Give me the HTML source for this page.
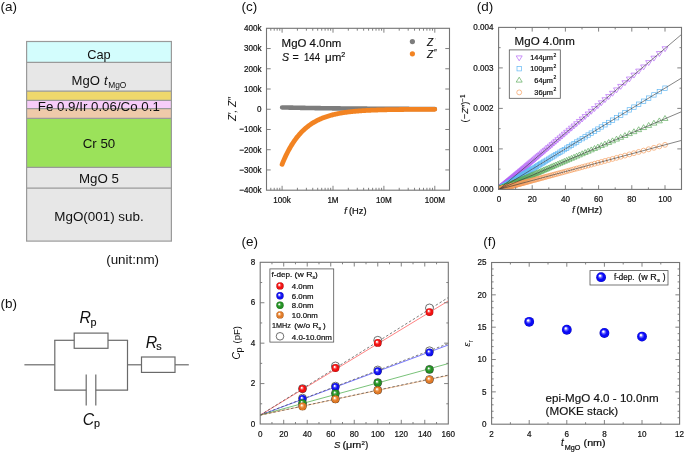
<!DOCTYPE html>
<html><head><meta charset="utf-8"><style>
html,body{margin:0;padding:0;background:#fff;}
svg{display:block;will-change:transform;font-family:"Liberation Sans", sans-serif;}
</style></head><body>
<svg width="685" height="452" viewBox="0 0 685 452" font-family='"Liberation Sans", sans-serif'>
<rect width="685" height="452" fill="#fff"/>
<text x="0.60" y="10.90" font-size="13.5" fill="#111111">(a)</text>
<text x="0.60" y="307.60" font-size="13.5" fill="#111111">(b)</text>
<text x="241.40" y="10.90" font-size="13.5" fill="#111111">(c)</text>
<text x="476.80" y="10.90" font-size="13.5" fill="#111111">(d)</text>
<text x="241.40" y="246.20" font-size="13.5" fill="#111111">(e)</text>
<text x="483.20" y="246.20" font-size="13.5" fill="#111111">(f)</text>
<rect x="26.6" y="41.5" width="144.8" height="20.90" fill="#d3fdfd"/>
<rect x="26.6" y="62.4" width="144.8" height="28.70" fill="#e7e7e7"/>
<rect x="26.6" y="91.1" width="144.8" height="9.30" fill="#efd86c"/>
<rect x="26.6" y="100.4" width="144.8" height="8.20" fill="#f7cdf9"/>
<rect x="26.6" y="108.6" width="144.8" height="9.80" fill="#efcaaa"/>
<rect x="26.6" y="118.4" width="144.8" height="48.90" fill="#9be25a"/>
<rect x="26.6" y="167.3" width="144.8" height="20.80" fill="#e7e7e7"/>
<rect x="26.6" y="188.1" width="144.8" height="53.00" fill="#e7e7e7"/>
<line x1="26.60" y1="62.40" x2="171.40" y2="62.40" stroke="#9a9a9a" stroke-width="1.2"/>
<line x1="26.60" y1="91.10" x2="171.40" y2="91.10" stroke="#9a9a9a" stroke-width="1.2"/>
<line x1="26.60" y1="100.40" x2="171.40" y2="100.40" stroke="#9a9a9a" stroke-width="1.2"/>
<line x1="26.60" y1="108.60" x2="171.40" y2="108.60" stroke="#9a9a9a" stroke-width="1.2"/>
<line x1="26.60" y1="118.40" x2="171.40" y2="118.40" stroke="#9a9a9a" stroke-width="1.2"/>
<line x1="26.60" y1="167.30" x2="171.40" y2="167.30" stroke="#9a9a9a" stroke-width="1.2"/>
<line x1="26.60" y1="188.10" x2="171.40" y2="188.10" stroke="#9a9a9a" stroke-width="1.2"/>
<rect x="26.6" y="41.5" width="144.8" height="199.60" fill="none" stroke="#9a9a9a" stroke-width="1.2"/>
<text x="99.00" y="58.70" font-size="12.8" text-anchor="middle" fill="#111111">Cap</text>
<text x="71.60" y="84.80" font-size="13.1" fill="#111111">MgO </text>
<text x="104.00" y="84.80" font-size="12.8" font-style="italic" fill="#111111">t</text>
<text x="108.20" y="87.60" font-size="8.4" fill="#111111" stroke="none">MgO</text>
<text x="98.80" y="111.00" font-size="13.3" text-anchor="middle" textLength="122.0" lengthAdjust="spacingAndGlyphs" fill="#111111">Fe 0.9/Ir 0.06/Co 0.1</text>
<text x="99.00" y="147.90" font-size="13.3" text-anchor="middle" fill="#111111">Cr 50</text>
<text x="99.00" y="183.40" font-size="13.3" text-anchor="middle" fill="#111111">MgO 5</text>
<text x="99.00" y="220.90" font-size="13.4" text-anchor="middle" fill="#111111">MgO(001) sub.</text>
<text x="132.60" y="264.10" font-size="13.4" text-anchor="middle" fill="#111111">(unit:nm)</text>
<line x1="24.40" y1="364.80" x2="54.80" y2="364.80" stroke="#6a6a6a" stroke-width="1.2"/>
<line x1="54.80" y1="340.30" x2="54.80" y2="390.20" stroke="#6a6a6a" stroke-width="1.2"/>
<line x1="127.50" y1="340.30" x2="127.50" y2="390.20" stroke="#6a6a6a" stroke-width="1.2"/>
<line x1="54.20" y1="340.30" x2="74.20" y2="340.30" stroke="#6a6a6a" stroke-width="1.2"/>
<line x1="108.00" y1="340.30" x2="128.10" y2="340.30" stroke="#6a6a6a" stroke-width="1.2"/>
<rect x="74.2" y="333.1" width="33.8" height="15.2" fill="none" stroke="#6a6a6a" stroke-width="1.2"/>
<line x1="54.20" y1="390.20" x2="86.20" y2="390.20" stroke="#6a6a6a" stroke-width="1.2"/>
<line x1="95.80" y1="390.20" x2="128.10" y2="390.20" stroke="#6a6a6a" stroke-width="1.2"/>
<line x1="86.20" y1="374.50" x2="86.20" y2="405.40" stroke="#6a6a6a" stroke-width="1.2"/>
<line x1="95.80" y1="374.50" x2="95.80" y2="405.40" stroke="#6a6a6a" stroke-width="1.2"/>
<line x1="127.50" y1="364.80" x2="141.50" y2="364.80" stroke="#6a6a6a" stroke-width="1.2"/>
<rect x="141.5" y="357.0" width="33.5" height="15.4" fill="none" stroke="#6a6a6a" stroke-width="1.2"/>
<line x1="175.00" y1="364.80" x2="188.80" y2="364.80" stroke="#6a6a6a" stroke-width="1.2"/>
<text x="79.40" y="323.40" font-size="15.8" font-style="italic" fill="#111111">R</text>
<text x="90.60" y="326.30" font-size="10.8" fill="#111111" stroke="#111111" stroke-width="0.16">p</text>
<text x="145.70" y="347.90" font-size="15.8" font-style="italic" fill="#111111">R</text>
<text x="156.30" y="350.20" font-size="10.8" fill="#111111" stroke="#111111" stroke-width="0.16">s</text>
<text x="82.80" y="424.60" font-size="15.8" font-style="italic" fill="#111111">C</text>
<text x="93.90" y="426.60" font-size="10.8" fill="#111111" stroke="#111111" stroke-width="0.16">p</text>
<polyline fill="none" stroke="#7d7d7d" stroke-width="4.6" stroke-linecap="round" stroke-linejoin="round" points="282.10,107.43 282.86,107.45 283.63,107.47 284.39,107.48 285.15,107.50 285.92,107.52 286.68,107.54 287.44,107.56 288.21,107.57 288.97,107.59 289.74,107.61 290.50,107.62 291.26,107.64 292.03,107.66 292.79,107.67 293.55,107.69 294.32,107.71 295.08,107.72 295.84,107.74 296.61,107.75 297.37,107.77 298.13,107.78 298.90,107.80 299.66,107.81 300.42,107.83 301.19,107.84 301.95,107.86 302.71,107.87 303.48,107.89 304.24,107.90 305.01,107.92 305.77,107.93 306.53,107.94 307.30,107.96 308.06,107.97 308.82,107.98 309.59,108.00 310.35,108.01 311.11,108.02 311.88,108.03 312.64,108.05 313.40,108.06 314.17,108.07 314.93,108.08 315.69,108.10 316.46,108.11 317.22,108.12 317.98,108.13 318.75,108.14 319.51,108.15 320.28,108.16 321.04,108.18 321.80,108.19 322.57,108.20 323.33,108.21 324.09,108.22 324.86,108.23 325.62,108.24 326.38,108.25 327.15,108.26 327.91,108.27 328.67,108.28 329.44,108.29 330.20,108.30 330.96,108.31 331.73,108.32 332.49,108.33 333.25,108.34 334.02,108.35 334.78,108.36 335.55,108.37 336.31,108.38 337.07,108.39 337.84,108.40 338.60,108.40 339.36,108.41 340.13,108.42 340.89,108.43 341.65,108.44 342.42,108.45 343.18,108.45 343.94,108.46 344.71,108.47 345.47,108.48 346.23,108.49 347.00,108.49 347.76,108.50 348.52,108.51 349.29,108.52 350.05,108.53 350.81,108.53 351.58,108.54 352.34,108.55 353.11,108.56 353.87,108.56 354.63,108.57 355.40,108.58 356.16,108.58 356.92,108.59 357.69,108.60 358.45,108.60 359.21,108.61 359.98,108.62 360.74,108.62 361.50,108.63 362.27,108.64 363.03,108.64 363.79,108.65 364.56,108.66 365.32,108.66 366.09,108.67 366.85,108.67 367.61,108.68 368.38,108.69 369.14,108.69 369.90,108.70 370.67,108.70 371.43,108.71 372.19,108.71 372.96,108.72 373.72,108.72 374.48,108.73 375.25,108.74 376.01,108.74 376.77,108.75 377.54,108.75 378.30,108.76 379.06,108.76 379.83,108.77 380.59,108.77 381.36,108.78 382.12,108.78 382.88,108.79 383.65,108.79 384.41,108.80 385.17,108.80 385.94,108.80 386.70,108.81 387.46,108.81 388.23,108.82 388.99,108.82 389.75,108.83 390.52,108.83 391.28,108.84 392.04,108.84 392.81,108.84 393.57,108.85 394.33,108.85 395.10,108.86 395.86,108.86 396.62,108.87 397.39,108.87 398.15,108.87 398.92,108.88 399.68,108.88 400.44,108.88 401.21,108.89 401.97,108.89 402.73,108.90 403.50,108.90 404.26,108.90 405.02,108.91 405.79,108.91 406.55,108.91 407.31,108.92 408.08,108.92 408.84,108.92 409.60,108.93 410.37,108.93 411.13,108.93 411.89,108.94 412.66,108.94 413.42,108.94 414.19,108.95 414.95,108.95 415.71,108.95 416.48,108.96 417.24,108.96 418.00,108.96 418.77,108.96 419.53,108.97 420.29,108.97 421.06,108.97 421.82,108.98 422.58,108.98 423.35,108.98 424.11,108.98 424.87,108.99 425.64,108.99 426.40,108.99 427.16,109.00 427.93,109.00 428.69,109.00 429.46,109.00 430.22,109.01 430.98,109.01 431.75,109.01 432.51,109.01 433.27,109.02 434.04,109.02 434.80,109.02"/>
<polyline fill="none" stroke="#f28322" stroke-width="4.8" stroke-linecap="round" stroke-linejoin="round" points="282.10,164.30 282.86,162.43 283.63,160.63 284.39,158.88 285.15,157.20 285.92,155.57 286.68,154.00 287.44,152.48 288.21,151.01 288.97,149.59 289.74,148.22 290.50,146.90 291.26,145.62 292.03,144.39 292.79,143.20 293.55,142.04 294.32,140.93 295.08,139.85 295.84,138.82 296.61,137.81 297.37,136.84 298.13,135.91 298.90,135.00 299.66,134.13 300.42,133.28 301.19,132.47 301.95,131.68 302.71,130.92 303.48,130.18 304.24,129.47 305.01,128.78 305.77,128.12 306.53,127.48 307.30,126.86 308.06,126.26 308.82,125.69 309.59,125.13 310.35,124.59 311.11,124.07 311.88,123.56 312.64,123.08 313.40,122.61 314.17,122.16 314.93,121.72 315.69,121.29 316.46,120.89 317.22,120.49 317.98,120.11 318.75,119.74 319.51,119.38 320.28,119.04 321.04,118.71 321.80,118.39 322.57,118.08 323.33,117.78 324.09,117.49 324.86,117.21 325.62,116.94 326.38,116.68 327.15,116.42 327.91,116.18 328.67,115.95 329.44,115.72 330.20,115.50 330.96,115.29 331.73,115.08 332.49,114.88 333.25,114.69 334.02,114.51 334.78,114.33 335.55,114.16 336.31,113.99 337.07,113.83 337.84,113.67 338.60,113.52 339.36,113.38 340.13,113.24 340.89,113.10 341.65,112.97 342.42,112.85 343.18,112.72 343.94,112.61 344.71,112.49 345.47,112.38 346.23,112.28 347.00,112.17 347.76,112.07 348.52,111.98 349.29,111.88 350.05,111.80 350.81,111.71 351.58,111.63 352.34,111.54 353.11,111.47 353.87,111.39 354.63,111.32 355.40,111.25 356.16,111.18 356.92,111.12 357.69,111.05 358.45,110.99 359.21,110.93 359.98,110.87 360.74,110.82 361.50,110.77 362.27,110.71 363.03,110.67 363.79,110.62 364.56,110.57 365.32,110.53 366.09,110.48 366.85,110.44 367.61,110.40 368.38,110.36 369.14,110.32 369.90,110.29 370.67,110.25 371.43,110.22 372.19,110.18 372.96,110.15 373.72,110.12 374.48,110.09 375.25,110.06 376.01,110.04 376.77,110.01 377.54,109.98 378.30,109.96 379.06,109.94 379.83,109.91 380.59,109.89 381.36,109.87 382.12,109.85 382.88,109.83 383.65,109.81 384.41,109.79 385.17,109.77 385.94,109.75 386.70,109.74 387.46,109.72 388.23,109.70 388.99,109.69 389.75,109.67 390.52,109.66 391.28,109.64 392.04,109.63 392.81,109.62 393.57,109.61 394.33,109.59 395.10,109.58 395.86,109.57 396.62,109.56 397.39,109.55 398.15,109.54 398.92,109.53 399.68,109.52 400.44,109.51 401.21,109.50 401.97,109.49 402.73,109.48 403.50,109.48 404.26,109.47 405.02,109.46 405.79,109.45 406.55,109.45 407.31,109.44 408.08,109.43 408.84,109.43 409.60,109.42 410.37,109.42 411.13,109.41 411.89,109.41 412.66,109.40 413.42,109.39 414.19,109.39 414.95,109.39 415.71,109.38 416.48,109.38 417.24,109.37 418.00,109.37 418.77,109.36 419.53,109.36 420.29,109.36 421.06,109.35 421.82,109.35 422.58,109.35 423.35,109.34 424.11,109.34 424.87,109.34 425.64,109.33 426.40,109.33 427.16,109.33 427.93,109.33 428.69,109.32 429.46,109.32 430.22,109.32 430.98,109.32 431.75,109.31 432.51,109.31 433.27,109.31 434.04,109.31 434.80,109.31"/>
<rect x="266.50" y="28.30" width="183.00" height="161.90" fill="none" stroke="#747474" stroke-width="1.1"/>
<line x1="270.81" y1="190.20" x2="270.81" y2="187.80" stroke="#747474" stroke-width="0.9"/>
<line x1="270.81" y1="28.30" x2="270.81" y2="30.70" stroke="#747474" stroke-width="0.9"/>
<line x1="274.22" y1="190.20" x2="274.22" y2="187.80" stroke="#747474" stroke-width="0.9"/>
<line x1="274.22" y1="28.30" x2="274.22" y2="30.70" stroke="#747474" stroke-width="0.9"/>
<line x1="277.17" y1="190.20" x2="277.17" y2="187.80" stroke="#747474" stroke-width="0.9"/>
<line x1="277.17" y1="28.30" x2="277.17" y2="30.70" stroke="#747474" stroke-width="0.9"/>
<line x1="279.77" y1="190.20" x2="279.77" y2="187.80" stroke="#747474" stroke-width="0.9"/>
<line x1="279.77" y1="28.30" x2="279.77" y2="30.70" stroke="#747474" stroke-width="0.9"/>
<line x1="282.10" y1="190.20" x2="282.10" y2="185.80" stroke="#747474" stroke-width="0.9"/>
<line x1="282.10" y1="28.30" x2="282.10" y2="32.70" stroke="#747474" stroke-width="0.9"/>
<line x1="297.42" y1="190.20" x2="297.42" y2="187.80" stroke="#747474" stroke-width="0.9"/>
<line x1="297.42" y1="28.30" x2="297.42" y2="30.70" stroke="#747474" stroke-width="0.9"/>
<line x1="306.39" y1="190.20" x2="306.39" y2="187.80" stroke="#747474" stroke-width="0.9"/>
<line x1="306.39" y1="28.30" x2="306.39" y2="30.70" stroke="#747474" stroke-width="0.9"/>
<line x1="312.74" y1="190.20" x2="312.74" y2="187.80" stroke="#747474" stroke-width="0.9"/>
<line x1="312.74" y1="28.30" x2="312.74" y2="30.70" stroke="#747474" stroke-width="0.9"/>
<line x1="317.68" y1="190.20" x2="317.68" y2="187.80" stroke="#747474" stroke-width="0.9"/>
<line x1="317.68" y1="28.30" x2="317.68" y2="30.70" stroke="#747474" stroke-width="0.9"/>
<line x1="321.71" y1="190.20" x2="321.71" y2="187.80" stroke="#747474" stroke-width="0.9"/>
<line x1="321.71" y1="28.30" x2="321.71" y2="30.70" stroke="#747474" stroke-width="0.9"/>
<line x1="325.12" y1="190.20" x2="325.12" y2="187.80" stroke="#747474" stroke-width="0.9"/>
<line x1="325.12" y1="28.30" x2="325.12" y2="30.70" stroke="#747474" stroke-width="0.9"/>
<line x1="328.07" y1="190.20" x2="328.07" y2="187.80" stroke="#747474" stroke-width="0.9"/>
<line x1="328.07" y1="28.30" x2="328.07" y2="30.70" stroke="#747474" stroke-width="0.9"/>
<line x1="330.67" y1="190.20" x2="330.67" y2="187.80" stroke="#747474" stroke-width="0.9"/>
<line x1="330.67" y1="28.30" x2="330.67" y2="30.70" stroke="#747474" stroke-width="0.9"/>
<line x1="333.00" y1="190.20" x2="333.00" y2="185.80" stroke="#747474" stroke-width="0.9"/>
<line x1="333.00" y1="28.30" x2="333.00" y2="32.70" stroke="#747474" stroke-width="0.9"/>
<line x1="348.32" y1="190.20" x2="348.32" y2="187.80" stroke="#747474" stroke-width="0.9"/>
<line x1="348.32" y1="28.30" x2="348.32" y2="30.70" stroke="#747474" stroke-width="0.9"/>
<line x1="357.29" y1="190.20" x2="357.29" y2="187.80" stroke="#747474" stroke-width="0.9"/>
<line x1="357.29" y1="28.30" x2="357.29" y2="30.70" stroke="#747474" stroke-width="0.9"/>
<line x1="363.64" y1="190.20" x2="363.64" y2="187.80" stroke="#747474" stroke-width="0.9"/>
<line x1="363.64" y1="28.30" x2="363.64" y2="30.70" stroke="#747474" stroke-width="0.9"/>
<line x1="368.58" y1="190.20" x2="368.58" y2="187.80" stroke="#747474" stroke-width="0.9"/>
<line x1="368.58" y1="28.30" x2="368.58" y2="30.70" stroke="#747474" stroke-width="0.9"/>
<line x1="372.61" y1="190.20" x2="372.61" y2="187.80" stroke="#747474" stroke-width="0.9"/>
<line x1="372.61" y1="28.30" x2="372.61" y2="30.70" stroke="#747474" stroke-width="0.9"/>
<line x1="376.02" y1="190.20" x2="376.02" y2="187.80" stroke="#747474" stroke-width="0.9"/>
<line x1="376.02" y1="28.30" x2="376.02" y2="30.70" stroke="#747474" stroke-width="0.9"/>
<line x1="378.97" y1="190.20" x2="378.97" y2="187.80" stroke="#747474" stroke-width="0.9"/>
<line x1="378.97" y1="28.30" x2="378.97" y2="30.70" stroke="#747474" stroke-width="0.9"/>
<line x1="381.57" y1="190.20" x2="381.57" y2="187.80" stroke="#747474" stroke-width="0.9"/>
<line x1="381.57" y1="28.30" x2="381.57" y2="30.70" stroke="#747474" stroke-width="0.9"/>
<line x1="383.90" y1="190.20" x2="383.90" y2="185.80" stroke="#747474" stroke-width="0.9"/>
<line x1="383.90" y1="28.30" x2="383.90" y2="32.70" stroke="#747474" stroke-width="0.9"/>
<line x1="399.22" y1="190.20" x2="399.22" y2="187.80" stroke="#747474" stroke-width="0.9"/>
<line x1="399.22" y1="28.30" x2="399.22" y2="30.70" stroke="#747474" stroke-width="0.9"/>
<line x1="408.19" y1="190.20" x2="408.19" y2="187.80" stroke="#747474" stroke-width="0.9"/>
<line x1="408.19" y1="28.30" x2="408.19" y2="30.70" stroke="#747474" stroke-width="0.9"/>
<line x1="414.54" y1="190.20" x2="414.54" y2="187.80" stroke="#747474" stroke-width="0.9"/>
<line x1="414.54" y1="28.30" x2="414.54" y2="30.70" stroke="#747474" stroke-width="0.9"/>
<line x1="419.48" y1="190.20" x2="419.48" y2="187.80" stroke="#747474" stroke-width="0.9"/>
<line x1="419.48" y1="28.30" x2="419.48" y2="30.70" stroke="#747474" stroke-width="0.9"/>
<line x1="423.51" y1="190.20" x2="423.51" y2="187.80" stroke="#747474" stroke-width="0.9"/>
<line x1="423.51" y1="28.30" x2="423.51" y2="30.70" stroke="#747474" stroke-width="0.9"/>
<line x1="426.92" y1="190.20" x2="426.92" y2="187.80" stroke="#747474" stroke-width="0.9"/>
<line x1="426.92" y1="28.30" x2="426.92" y2="30.70" stroke="#747474" stroke-width="0.9"/>
<line x1="429.87" y1="190.20" x2="429.87" y2="187.80" stroke="#747474" stroke-width="0.9"/>
<line x1="429.87" y1="28.30" x2="429.87" y2="30.70" stroke="#747474" stroke-width="0.9"/>
<line x1="432.47" y1="190.20" x2="432.47" y2="187.80" stroke="#747474" stroke-width="0.9"/>
<line x1="432.47" y1="28.30" x2="432.47" y2="30.70" stroke="#747474" stroke-width="0.9"/>
<line x1="434.80" y1="190.20" x2="434.80" y2="185.80" stroke="#747474" stroke-width="0.9"/>
<line x1="434.80" y1="28.30" x2="434.80" y2="32.70" stroke="#747474" stroke-width="0.9"/>
<text x="261.60" y="31.10" font-size="9" text-anchor="end" textLength="17.56" lengthAdjust="spacingAndGlyphs" fill="#111111" stroke="#111111" stroke-width="0.22">400k</text>
<line x1="266.50" y1="48.54" x2="270.70" y2="48.54" stroke="#747474" stroke-width="0.9"/>
<line x1="449.50" y1="48.54" x2="445.30" y2="48.54" stroke="#747474" stroke-width="0.9"/>
<text x="261.60" y="51.34" font-size="9" text-anchor="end" textLength="17.56" lengthAdjust="spacingAndGlyphs" fill="#111111" stroke="#111111" stroke-width="0.22">300k</text>
<line x1="266.50" y1="68.77" x2="270.70" y2="68.77" stroke="#747474" stroke-width="0.9"/>
<line x1="449.50" y1="68.77" x2="445.30" y2="68.77" stroke="#747474" stroke-width="0.9"/>
<text x="261.60" y="71.57" font-size="9" text-anchor="end" textLength="17.56" lengthAdjust="spacingAndGlyphs" fill="#111111" stroke="#111111" stroke-width="0.22">200k</text>
<line x1="266.50" y1="89.01" x2="270.70" y2="89.01" stroke="#747474" stroke-width="0.9"/>
<line x1="449.50" y1="89.01" x2="445.30" y2="89.01" stroke="#747474" stroke-width="0.9"/>
<text x="261.60" y="91.81" font-size="9" text-anchor="end" textLength="17.56" lengthAdjust="spacingAndGlyphs" fill="#111111" stroke="#111111" stroke-width="0.22">100k</text>
<line x1="266.50" y1="109.25" x2="270.70" y2="109.25" stroke="#747474" stroke-width="0.9"/>
<line x1="449.50" y1="109.25" x2="445.30" y2="109.25" stroke="#747474" stroke-width="0.9"/>
<text x="261.60" y="112.05" font-size="9" text-anchor="end" textLength="4.5" lengthAdjust="spacingAndGlyphs" fill="#111111" stroke="#111111" stroke-width="0.22">0</text>
<line x1="266.50" y1="129.49" x2="270.70" y2="129.49" stroke="#747474" stroke-width="0.9"/>
<line x1="449.50" y1="129.49" x2="445.30" y2="129.49" stroke="#747474" stroke-width="0.9"/>
<text x="261.60" y="132.29" font-size="9" text-anchor="end" textLength="22.29" lengthAdjust="spacingAndGlyphs" fill="#111111" stroke="#111111" stroke-width="0.22">−100k</text>
<line x1="266.50" y1="149.72" x2="270.70" y2="149.72" stroke="#747474" stroke-width="0.9"/>
<line x1="449.50" y1="149.72" x2="445.30" y2="149.72" stroke="#747474" stroke-width="0.9"/>
<text x="261.60" y="152.53" font-size="9" text-anchor="end" textLength="22.29" lengthAdjust="spacingAndGlyphs" fill="#111111" stroke="#111111" stroke-width="0.22">−200k</text>
<line x1="266.50" y1="169.96" x2="270.70" y2="169.96" stroke="#747474" stroke-width="0.9"/>
<line x1="449.50" y1="169.96" x2="445.30" y2="169.96" stroke="#747474" stroke-width="0.9"/>
<text x="261.60" y="172.76" font-size="9" text-anchor="end" textLength="22.29" lengthAdjust="spacingAndGlyphs" fill="#111111" stroke="#111111" stroke-width="0.22">−300k</text>
<text x="261.60" y="193.00" font-size="9" text-anchor="end" textLength="22.29" lengthAdjust="spacingAndGlyphs" fill="#111111" stroke="#111111" stroke-width="0.22">−400k</text>
<text x="282.10" y="203.00" font-size="9" text-anchor="middle" textLength="17.56" lengthAdjust="spacingAndGlyphs" fill="#111111" stroke="#111111" stroke-width="0.22">100k</text>
<text x="333.00" y="203.00" font-size="9" text-anchor="middle" textLength="11.25" lengthAdjust="spacingAndGlyphs" fill="#111111" stroke="#111111" stroke-width="0.22">1M</text>
<text x="383.90" y="203.00" font-size="9" text-anchor="middle" textLength="15.76" lengthAdjust="spacingAndGlyphs" fill="#111111" stroke="#111111" stroke-width="0.22">10M</text>
<text x="434.80" y="203.00" font-size="9" text-anchor="middle" textLength="20.26" lengthAdjust="spacingAndGlyphs" fill="#111111" stroke="#111111" stroke-width="0.22">100M</text>
<text x="281.60" y="46.50" font-size="10.2" textLength="59.8" lengthAdjust="spacingAndGlyphs" fill="#111111" stroke="#111111" stroke-width="0.16">MgO 4.0nm</text>
<text x="282.00" y="60.70" font-size="10.6" font-style="italic" fill="#111111" stroke="#111111" stroke-width="0.16">S</text>
<text x="292.60" y="60.70" font-size="10.6" fill="#111111" stroke="#111111" stroke-width="0.16">=</text>
<text x="304.00" y="60.70" font-size="10.6" textLength="16.0" lengthAdjust="spacingAndGlyphs" fill="#111111" stroke="#111111" stroke-width="0.16">144</text>
<text x="325.00" y="60.70" font-size="10.6" textLength="16.4" lengthAdjust="spacingAndGlyphs" fill="#111111" stroke="#111111" stroke-width="0.16">μm</text>
<text x="341.20" y="56.60" font-size="7" fill="#111111" stroke="#111111" stroke-width="0.22">2</text>
<circle cx="412.4" cy="41.6" r="2.6" fill="#7d7d7d"/>
<circle cx="412.4" cy="53.8" r="2.6" fill="#f28322"/>
<text x="427.00" y="45.60" font-size="10.2" font-style="italic" fill="#111111" stroke="#111111" stroke-width="0.16">Z</text>
<text x="434.40" y="42.00" font-size="6" font-style="italic" fill="#c8c8c8" stroke="#c8c8c8" stroke-width="0.22">′</text>
<text x="427.00" y="57.80" font-size="10.2" font-style="italic" fill="#111111" stroke="#111111" stroke-width="0.16">Z</text>
<text x="433.60" y="55.20" font-size="8.5" font-style="italic" fill="#333" stroke="#333" stroke-width="0.22">″</text>
<text x="344.30" y="213.80" font-size="9" font-style="italic" fill="#111111" stroke="#111111" stroke-width="0.22">f</text>
<text x="349.00" y="213.80" font-size="8.6" textLength="17.6" lengthAdjust="spacingAndGlyphs" fill="#111111" stroke="#111111" stroke-width="0.22">(Hz)</text>
<text transform="translate(235.5,109) rotate(-90)" font-size="10.4" text-anchor="middle" font-style="italic" fill="#111111">Z′, Z″</text>
<defs><clipPath id="clipd"><rect x="498.6" y="27.4" width="182.9" height="162"/></clipPath><path id="mtd" d="M-3,-1.7 L3,-1.7 L0,3.2 Z" fill="none" stroke="#b464f6" stroke-width="0.68"/><rect id="msq" x="-2.2" y="-2.2" width="4.4" height="4.4" fill="none" stroke="#5eb6f4" stroke-width="0.68"/><path id="mtu" d="M-3,1.7 L3,1.7 L0,-3.2 Z" fill="none" stroke="#58aa58" stroke-width="0.68"/><circle id="mci" r="2.45" fill="none" stroke="#f49c5c" stroke-width="0.68"/></defs>
<g clip-path="url(#clipd)">
<use href="#mtd" x="499.17" y="189.26"/>
<use href="#mtd" x="499.17" y="189.25"/>
<use href="#mtd" x="499.18" y="189.25"/>
<use href="#mtd" x="499.18" y="189.24"/>
<use href="#mtd" x="499.19" y="189.24"/>
<use href="#mtd" x="499.20" y="189.23"/>
<use href="#mtd" x="499.20" y="189.23"/>
<use href="#mtd" x="499.21" y="189.22"/>
<use href="#mtd" x="499.22" y="189.21"/>
<use href="#mtd" x="499.23" y="189.21"/>
<use href="#mtd" x="499.23" y="189.20"/>
<use href="#mtd" x="499.24" y="189.19"/>
<use href="#mtd" x="499.25" y="189.19"/>
<use href="#mtd" x="499.26" y="189.18"/>
<use href="#mtd" x="499.27" y="189.17"/>
<use href="#mtd" x="499.28" y="189.16"/>
<use href="#mtd" x="499.29" y="189.16"/>
<use href="#mtd" x="499.30" y="189.15"/>
<use href="#mtd" x="499.31" y="189.14"/>
<use href="#mtd" x="499.32" y="189.13"/>
<use href="#mtd" x="499.33" y="189.12"/>
<use href="#mtd" x="499.34" y="189.11"/>
<use href="#mtd" x="499.35" y="189.10"/>
<use href="#mtd" x="499.37" y="189.09"/>
<use href="#mtd" x="499.38" y="189.08"/>
<use href="#mtd" x="499.39" y="189.07"/>
<use href="#mtd" x="499.41" y="189.05"/>
<use href="#mtd" x="499.42" y="189.04"/>
<use href="#mtd" x="499.44" y="189.03"/>
<use href="#mtd" x="499.45" y="189.02"/>
<use href="#mtd" x="499.47" y="189.00"/>
<use href="#mtd" x="499.48" y="188.99"/>
<use href="#mtd" x="499.50" y="188.97"/>
<use href="#mtd" x="499.52" y="188.96"/>
<use href="#mtd" x="499.54" y="188.94"/>
<use href="#mtd" x="499.56" y="188.93"/>
<use href="#mtd" x="499.58" y="188.91"/>
<use href="#mtd" x="499.60" y="188.89"/>
<use href="#mtd" x="499.62" y="188.88"/>
<use href="#mtd" x="499.64" y="188.86"/>
<use href="#mtd" x="499.66" y="188.84"/>
<use href="#mtd" x="499.68" y="188.82"/>
<use href="#mtd" x="499.71" y="188.80"/>
<use href="#mtd" x="499.73" y="188.78"/>
<use href="#mtd" x="499.76" y="188.76"/>
<use href="#mtd" x="499.79" y="188.73"/>
<use href="#mtd" x="499.81" y="188.71"/>
<use href="#mtd" x="499.84" y="188.69"/>
<use href="#mtd" x="499.87" y="188.66"/>
<use href="#mtd" x="499.90" y="188.63"/>
<use href="#mtd" x="499.93" y="188.61"/>
<use href="#mtd" x="499.97" y="188.58"/>
<use href="#mtd" x="500.00" y="188.55"/>
<use href="#mtd" x="500.04" y="188.52"/>
<use href="#mtd" x="500.07" y="188.49"/>
<use href="#mtd" x="500.11" y="188.46"/>
<use href="#mtd" x="500.15" y="188.42"/>
<use href="#mtd" x="500.19" y="188.39"/>
<use href="#mtd" x="500.23" y="188.36"/>
<use href="#mtd" x="500.27" y="188.32"/>
<use href="#mtd" x="500.32" y="188.28"/>
<use href="#mtd" x="500.36" y="188.24"/>
<use href="#mtd" x="500.41" y="188.20"/>
<use href="#mtd" x="500.46" y="188.16"/>
<use href="#mtd" x="500.51" y="188.11"/>
<use href="#mtd" x="500.57" y="188.07"/>
<use href="#mtd" x="500.62" y="188.02"/>
<use href="#mtd" x="500.68" y="187.97"/>
<use href="#mtd" x="500.74" y="187.92"/>
<use href="#mtd" x="500.80" y="187.87"/>
<use href="#mtd" x="500.86" y="187.82"/>
<use href="#mtd" x="500.93" y="187.76"/>
<use href="#mtd" x="501.00" y="187.71"/>
<use href="#mtd" x="501.07" y="187.65"/>
<use href="#mtd" x="501.14" y="187.58"/>
<use href="#mtd" x="501.21" y="187.52"/>
<use href="#mtd" x="501.29" y="187.45"/>
<use href="#mtd" x="501.37" y="187.39"/>
<use href="#mtd" x="501.46" y="187.32"/>
<use href="#mtd" x="501.54" y="187.24"/>
<use href="#mtd" x="501.63" y="187.17"/>
<use href="#mtd" x="501.72" y="187.09"/>
<use href="#mtd" x="501.82" y="187.01"/>
<use href="#mtd" x="501.92" y="186.92"/>
<use href="#mtd" x="502.02" y="186.84"/>
<use href="#mtd" x="502.13" y="186.75"/>
<use href="#mtd" x="502.24" y="186.65"/>
<use href="#mtd" x="502.35" y="186.56"/>
<use href="#mtd" x="502.47" y="186.46"/>
<use href="#mtd" x="502.59" y="186.35"/>
<use href="#mtd" x="502.72" y="186.24"/>
<use href="#mtd" x="502.85" y="186.13"/>
<use href="#mtd" x="502.98" y="186.02"/>
<use href="#mtd" x="503.12" y="185.90"/>
<use href="#mtd" x="503.27" y="185.78"/>
<use href="#mtd" x="503.42" y="185.65"/>
<use href="#mtd" x="503.57" y="185.52"/>
<use href="#mtd" x="503.73" y="185.38"/>
<use href="#mtd" x="503.90" y="185.24"/>
<use href="#mtd" x="504.07" y="185.09"/>
<use href="#mtd" x="504.25" y="184.94"/>
<use href="#mtd" x="504.43" y="184.79"/>
<use href="#mtd" x="504.62" y="184.62"/>
<use href="#mtd" x="504.82" y="184.46"/>
<use href="#mtd" x="505.03" y="184.28"/>
<use href="#mtd" x="505.24" y="184.10"/>
<use href="#mtd" x="505.46" y="183.92"/>
<use href="#mtd" x="505.69" y="183.72"/>
<use href="#mtd" x="505.92" y="183.52"/>
<use href="#mtd" x="506.16" y="183.32"/>
<use href="#mtd" x="506.41" y="183.10"/>
<use href="#mtd" x="506.68" y="182.88"/>
<use href="#mtd" x="506.95" y="182.65"/>
<use href="#mtd" x="507.22" y="182.42"/>
<use href="#mtd" x="507.51" y="182.17"/>
<use href="#mtd" x="507.81" y="181.92"/>
<use href="#mtd" x="508.12" y="181.65"/>
<use href="#mtd" x="508.44" y="181.38"/>
<use href="#mtd" x="508.77" y="181.10"/>
<use href="#mtd" x="509.12" y="180.81"/>
<use href="#mtd" x="509.47" y="180.51"/>
<use href="#mtd" x="509.84" y="180.19"/>
<use href="#mtd" x="510.22" y="179.87"/>
<use href="#mtd" x="510.62" y="179.54"/>
<use href="#mtd" x="511.03" y="179.19"/>
<use href="#mtd" x="511.45" y="178.83"/>
<use href="#mtd" x="511.89" y="178.46"/>
<use href="#mtd" x="512.34" y="178.08"/>
<use href="#mtd" x="512.81" y="177.68"/>
<use href="#mtd" x="513.29" y="177.27"/>
<use href="#mtd" x="513.79" y="176.84"/>
<use href="#mtd" x="514.31" y="176.40"/>
<use href="#mtd" x="514.85" y="175.94"/>
<use href="#mtd" x="515.41" y="175.47"/>
<use href="#mtd" x="515.99" y="174.98"/>
<use href="#mtd" x="516.58" y="174.47"/>
<use href="#mtd" x="517.20" y="173.95"/>
<use href="#mtd" x="517.84" y="173.40"/>
<use href="#mtd" x="518.50" y="172.84"/>
<use href="#mtd" x="519.19" y="172.26"/>
<use href="#mtd" x="519.90" y="171.66"/>
<use href="#mtd" x="520.63" y="171.03"/>
<use href="#mtd" x="521.39" y="170.39"/>
<use href="#mtd" x="522.18" y="169.72"/>
<use href="#mtd" x="522.99" y="169.03"/>
<use href="#mtd" x="523.84" y="168.31"/>
<use href="#mtd" x="524.71" y="167.57"/>
<use href="#mtd" x="525.61" y="166.80"/>
<use href="#mtd" x="526.55" y="166.01"/>
<use href="#mtd" x="527.52" y="165.19"/>
<use href="#mtd" x="528.52" y="164.34"/>
<use href="#mtd" x="529.56" y="163.46"/>
<use href="#mtd" x="530.63" y="162.54"/>
<use href="#mtd" x="531.74" y="161.60"/>
<use href="#mtd" x="532.89" y="160.62"/>
<use href="#mtd" x="534.08" y="159.61"/>
<use href="#mtd" x="535.32" y="158.57"/>
<use href="#mtd" x="536.59" y="157.48"/>
<use href="#mtd" x="537.91" y="156.36"/>
<use href="#mtd" x="539.28" y="155.20"/>
<use href="#mtd" x="540.70" y="154.00"/>
<use href="#mtd" x="542.16" y="152.75"/>
<use href="#mtd" x="543.68" y="151.47"/>
<use href="#mtd" x="545.25" y="150.13"/>
<use href="#mtd" x="546.87" y="148.75"/>
<use href="#mtd" x="548.56" y="147.32"/>
<use href="#mtd" x="550.30" y="145.85"/>
<use href="#mtd" x="552.10" y="144.31"/>
<use href="#mtd" x="553.97" y="142.73"/>
<use href="#mtd" x="555.90" y="141.09"/>
<use href="#mtd" x="557.90" y="139.39"/>
<use href="#mtd" x="559.97" y="137.64"/>
<use href="#mtd" x="562.11" y="135.82"/>
<use href="#mtd" x="564.33" y="133.93"/>
<use href="#mtd" x="566.63" y="131.98"/>
<use href="#mtd" x="569.00" y="129.97"/>
<use href="#mtd" x="571.46" y="127.88"/>
<use href="#mtd" x="574.01" y="125.72"/>
<use href="#mtd" x="576.64" y="123.48"/>
<use href="#mtd" x="579.37" y="121.16"/>
<use href="#mtd" x="582.20" y="118.76"/>
<use href="#mtd" x="585.12" y="116.28"/>
<use href="#mtd" x="588.15" y="113.71"/>
<use href="#mtd" x="591.28" y="111.05"/>
<use href="#mtd" x="594.52" y="108.30"/>
<use href="#mtd" x="597.88" y="105.45"/>
<use href="#mtd" x="601.35" y="102.50"/>
<use href="#mtd" x="604.95" y="99.44"/>
<use href="#mtd" x="608.68" y="96.28"/>
<use href="#mtd" x="612.53" y="93.01"/>
<use href="#mtd" x="616.52" y="89.62"/>
<use href="#mtd" x="620.65" y="86.12"/>
<use href="#mtd" x="624.92" y="82.49"/>
<use href="#mtd" x="629.35" y="78.73"/>
<use href="#mtd" x="633.93" y="74.84"/>
<use href="#mtd" x="638.67" y="70.81"/>
<use href="#mtd" x="643.58" y="66.65"/>
<use href="#mtd" x="648.66" y="62.33"/>
<use href="#mtd" x="653.92" y="57.87"/>
<use href="#mtd" x="659.36" y="53.24"/>
<use href="#mtd" x="665.00" y="48.46"/>
<use href="#msq" x="499.17" y="189.30"/>
<use href="#msq" x="499.17" y="189.30"/>
<use href="#msq" x="499.18" y="189.29"/>
<use href="#msq" x="499.18" y="189.29"/>
<use href="#msq" x="499.19" y="189.28"/>
<use href="#msq" x="499.20" y="189.28"/>
<use href="#msq" x="499.20" y="189.28"/>
<use href="#msq" x="499.21" y="189.27"/>
<use href="#msq" x="499.22" y="189.27"/>
<use href="#msq" x="499.23" y="189.26"/>
<use href="#msq" x="499.23" y="189.26"/>
<use href="#msq" x="499.24" y="189.25"/>
<use href="#msq" x="499.25" y="189.25"/>
<use href="#msq" x="499.26" y="189.24"/>
<use href="#msq" x="499.27" y="189.24"/>
<use href="#msq" x="499.28" y="189.23"/>
<use href="#msq" x="499.29" y="189.22"/>
<use href="#msq" x="499.30" y="189.22"/>
<use href="#msq" x="499.31" y="189.21"/>
<use href="#msq" x="499.32" y="189.20"/>
<use href="#msq" x="499.33" y="189.20"/>
<use href="#msq" x="499.34" y="189.19"/>
<use href="#msq" x="499.35" y="189.18"/>
<use href="#msq" x="499.37" y="189.18"/>
<use href="#msq" x="499.38" y="189.17"/>
<use href="#msq" x="499.39" y="189.16"/>
<use href="#msq" x="499.41" y="189.15"/>
<use href="#msq" x="499.42" y="189.14"/>
<use href="#msq" x="499.44" y="189.13"/>
<use href="#msq" x="499.45" y="189.12"/>
<use href="#msq" x="499.47" y="189.11"/>
<use href="#msq" x="499.48" y="189.10"/>
<use href="#msq" x="499.50" y="189.09"/>
<use href="#msq" x="499.52" y="189.08"/>
<use href="#msq" x="499.54" y="189.07"/>
<use href="#msq" x="499.56" y="189.06"/>
<use href="#msq" x="499.58" y="189.05"/>
<use href="#msq" x="499.60" y="189.04"/>
<use href="#msq" x="499.62" y="189.02"/>
<use href="#msq" x="499.64" y="189.01"/>
<use href="#msq" x="499.66" y="189.00"/>
<use href="#msq" x="499.68" y="188.98"/>
<use href="#msq" x="499.71" y="188.97"/>
<use href="#msq" x="499.73" y="188.95"/>
<use href="#msq" x="499.76" y="188.94"/>
<use href="#msq" x="499.79" y="188.92"/>
<use href="#msq" x="499.81" y="188.90"/>
<use href="#msq" x="499.84" y="188.89"/>
<use href="#msq" x="499.87" y="188.87"/>
<use href="#msq" x="499.90" y="188.85"/>
<use href="#msq" x="499.93" y="188.83"/>
<use href="#msq" x="499.97" y="188.81"/>
<use href="#msq" x="500.00" y="188.79"/>
<use href="#msq" x="500.04" y="188.77"/>
<use href="#msq" x="500.07" y="188.75"/>
<use href="#msq" x="500.11" y="188.72"/>
<use href="#msq" x="500.15" y="188.70"/>
<use href="#msq" x="500.19" y="188.67"/>
<use href="#msq" x="500.23" y="188.65"/>
<use href="#msq" x="500.27" y="188.62"/>
<use href="#msq" x="500.32" y="188.60"/>
<use href="#msq" x="500.36" y="188.57"/>
<use href="#msq" x="500.41" y="188.54"/>
<use href="#msq" x="500.46" y="188.51"/>
<use href="#msq" x="500.51" y="188.48"/>
<use href="#msq" x="500.57" y="188.44"/>
<use href="#msq" x="500.62" y="188.41"/>
<use href="#msq" x="500.68" y="188.38"/>
<use href="#msq" x="500.74" y="188.34"/>
<use href="#msq" x="500.80" y="188.30"/>
<use href="#msq" x="500.86" y="188.26"/>
<use href="#msq" x="500.93" y="188.22"/>
<use href="#msq" x="501.00" y="188.18"/>
<use href="#msq" x="501.07" y="188.14"/>
<use href="#msq" x="501.14" y="188.10"/>
<use href="#msq" x="501.21" y="188.05"/>
<use href="#msq" x="501.29" y="188.00"/>
<use href="#msq" x="501.37" y="187.95"/>
<use href="#msq" x="501.46" y="187.90"/>
<use href="#msq" x="501.54" y="187.85"/>
<use href="#msq" x="501.63" y="187.80"/>
<use href="#msq" x="501.72" y="187.74"/>
<use href="#msq" x="501.82" y="187.68"/>
<use href="#msq" x="501.92" y="187.62"/>
<use href="#msq" x="502.02" y="187.56"/>
<use href="#msq" x="502.13" y="187.49"/>
<use href="#msq" x="502.24" y="187.43"/>
<use href="#msq" x="502.35" y="187.36"/>
<use href="#msq" x="502.47" y="187.28"/>
<use href="#msq" x="502.59" y="187.21"/>
<use href="#msq" x="502.72" y="187.13"/>
<use href="#msq" x="502.85" y="187.05"/>
<use href="#msq" x="502.98" y="186.97"/>
<use href="#msq" x="503.12" y="186.89"/>
<use href="#msq" x="503.27" y="186.80"/>
<use href="#msq" x="503.42" y="186.71"/>
<use href="#msq" x="503.57" y="186.61"/>
<use href="#msq" x="503.73" y="186.51"/>
<use href="#msq" x="503.90" y="186.41"/>
<use href="#msq" x="504.07" y="186.31"/>
<use href="#msq" x="504.25" y="186.20"/>
<use href="#msq" x="504.43" y="186.09"/>
<use href="#msq" x="504.62" y="185.97"/>
<use href="#msq" x="504.82" y="185.85"/>
<use href="#msq" x="505.03" y="185.72"/>
<use href="#msq" x="505.24" y="185.59"/>
<use href="#msq" x="505.46" y="185.46"/>
<use href="#msq" x="505.69" y="185.32"/>
<use href="#msq" x="505.92" y="185.18"/>
<use href="#msq" x="506.16" y="185.03"/>
<use href="#msq" x="506.41" y="184.88"/>
<use href="#msq" x="506.68" y="184.72"/>
<use href="#msq" x="506.95" y="184.55"/>
<use href="#msq" x="507.22" y="184.38"/>
<use href="#msq" x="507.51" y="184.21"/>
<use href="#msq" x="507.81" y="184.02"/>
<use href="#msq" x="508.12" y="183.84"/>
<use href="#msq" x="508.44" y="183.64"/>
<use href="#msq" x="508.77" y="183.44"/>
<use href="#msq" x="509.12" y="183.23"/>
<use href="#msq" x="509.47" y="183.01"/>
<use href="#msq" x="509.84" y="182.79"/>
<use href="#msq" x="510.22" y="182.55"/>
<use href="#msq" x="510.62" y="182.31"/>
<use href="#msq" x="511.03" y="182.07"/>
<use href="#msq" x="511.45" y="181.81"/>
<use href="#msq" x="511.89" y="181.54"/>
<use href="#msq" x="512.34" y="181.26"/>
<use href="#msq" x="512.81" y="180.98"/>
<use href="#msq" x="513.29" y="180.68"/>
<use href="#msq" x="513.79" y="180.38"/>
<use href="#msq" x="514.31" y="180.06"/>
<use href="#msq" x="514.85" y="179.73"/>
<use href="#msq" x="515.41" y="179.39"/>
<use href="#msq" x="515.99" y="179.04"/>
<use href="#msq" x="516.58" y="178.68"/>
<use href="#msq" x="517.20" y="178.30"/>
<use href="#msq" x="517.84" y="177.91"/>
<use href="#msq" x="518.50" y="177.50"/>
<use href="#msq" x="519.19" y="177.09"/>
<use href="#msq" x="519.90" y="176.65"/>
<use href="#msq" x="520.63" y="176.21"/>
<use href="#msq" x="521.39" y="175.74"/>
<use href="#msq" x="522.18" y="175.26"/>
<use href="#msq" x="522.99" y="174.76"/>
<use href="#msq" x="523.84" y="174.25"/>
<use href="#msq" x="524.71" y="173.72"/>
<use href="#msq" x="525.61" y="173.17"/>
<use href="#msq" x="526.55" y="172.60"/>
<use href="#msq" x="527.52" y="172.01"/>
<use href="#msq" x="528.52" y="171.39"/>
<use href="#msq" x="529.56" y="170.76"/>
<use href="#msq" x="530.63" y="170.11"/>
<use href="#msq" x="531.74" y="169.43"/>
<use href="#msq" x="532.89" y="168.73"/>
<use href="#msq" x="534.08" y="168.00"/>
<use href="#msq" x="535.32" y="167.25"/>
<use href="#msq" x="536.59" y="166.47"/>
<use href="#msq" x="537.91" y="165.66"/>
<use href="#msq" x="539.28" y="164.83"/>
<use href="#msq" x="540.70" y="163.97"/>
<use href="#msq" x="542.16" y="163.07"/>
<use href="#msq" x="543.68" y="162.15"/>
<use href="#msq" x="545.25" y="161.19"/>
<use href="#msq" x="546.87" y="160.20"/>
<use href="#msq" x="548.56" y="159.17"/>
<use href="#msq" x="550.30" y="158.11"/>
<use href="#msq" x="552.10" y="157.01"/>
<use href="#msq" x="553.97" y="155.87"/>
<use href="#msq" x="555.90" y="154.69"/>
<use href="#msq" x="557.90" y="153.48"/>
<use href="#msq" x="559.97" y="152.21"/>
<use href="#msq" x="562.11" y="150.91"/>
<use href="#msq" x="564.33" y="149.55"/>
<use href="#msq" x="566.63" y="148.15"/>
<use href="#msq" x="569.00" y="146.70"/>
<use href="#msq" x="571.46" y="145.20"/>
<use href="#msq" x="574.01" y="143.65"/>
<use href="#msq" x="576.64" y="142.04"/>
<use href="#msq" x="579.37" y="140.38"/>
<use href="#msq" x="582.20" y="138.65"/>
<use href="#msq" x="585.12" y="136.87"/>
<use href="#msq" x="588.15" y="135.03"/>
<use href="#msq" x="591.28" y="133.11"/>
<use href="#msq" x="594.52" y="131.14"/>
<use href="#msq" x="597.88" y="129.09"/>
<use href="#msq" x="601.35" y="126.97"/>
<use href="#msq" x="604.95" y="124.78"/>
<use href="#msq" x="608.68" y="122.50"/>
<use href="#msq" x="612.53" y="120.15"/>
<use href="#msq" x="616.52" y="117.72"/>
<use href="#msq" x="620.65" y="115.20"/>
<use href="#msq" x="624.92" y="112.59"/>
<use href="#msq" x="629.35" y="109.89"/>
<use href="#msq" x="633.93" y="107.10"/>
<use href="#msq" x="638.67" y="104.21"/>
<use href="#msq" x="643.58" y="101.21"/>
<use href="#msq" x="648.66" y="98.12"/>
<use href="#msq" x="653.92" y="94.91"/>
<use href="#msq" x="659.36" y="91.59"/>
<use href="#msq" x="665.00" y="88.15"/>
<use href="#mtu" x="499.17" y="189.33"/>
<use href="#mtu" x="499.17" y="189.33"/>
<use href="#mtu" x="499.18" y="189.32"/>
<use href="#mtu" x="499.18" y="189.32"/>
<use href="#mtu" x="499.19" y="189.32"/>
<use href="#mtu" x="499.20" y="189.32"/>
<use href="#mtu" x="499.20" y="189.31"/>
<use href="#mtu" x="499.21" y="189.31"/>
<use href="#mtu" x="499.22" y="189.31"/>
<use href="#mtu" x="499.23" y="189.30"/>
<use href="#mtu" x="499.23" y="189.30"/>
<use href="#mtu" x="499.24" y="189.30"/>
<use href="#mtu" x="499.25" y="189.29"/>
<use href="#mtu" x="499.26" y="189.29"/>
<use href="#mtu" x="499.27" y="189.29"/>
<use href="#mtu" x="499.28" y="189.28"/>
<use href="#mtu" x="499.29" y="189.28"/>
<use href="#mtu" x="499.30" y="189.27"/>
<use href="#mtu" x="499.31" y="189.27"/>
<use href="#mtu" x="499.32" y="189.26"/>
<use href="#mtu" x="499.33" y="189.26"/>
<use href="#mtu" x="499.34" y="189.25"/>
<use href="#mtu" x="499.35" y="189.25"/>
<use href="#mtu" x="499.37" y="189.24"/>
<use href="#mtu" x="499.38" y="189.24"/>
<use href="#mtu" x="499.39" y="189.23"/>
<use href="#mtu" x="499.41" y="189.23"/>
<use href="#mtu" x="499.42" y="189.22"/>
<use href="#mtu" x="499.44" y="189.21"/>
<use href="#mtu" x="499.45" y="189.21"/>
<use href="#mtu" x="499.47" y="189.20"/>
<use href="#mtu" x="499.48" y="189.19"/>
<use href="#mtu" x="499.50" y="189.19"/>
<use href="#mtu" x="499.52" y="189.18"/>
<use href="#mtu" x="499.54" y="189.17"/>
<use href="#mtu" x="499.56" y="189.16"/>
<use href="#mtu" x="499.58" y="189.15"/>
<use href="#mtu" x="499.60" y="189.15"/>
<use href="#mtu" x="499.62" y="189.14"/>
<use href="#mtu" x="499.64" y="189.13"/>
<use href="#mtu" x="499.66" y="189.12"/>
<use href="#mtu" x="499.68" y="189.11"/>
<use href="#mtu" x="499.71" y="189.10"/>
<use href="#mtu" x="499.73" y="189.09"/>
<use href="#mtu" x="499.76" y="189.08"/>
<use href="#mtu" x="499.79" y="189.07"/>
<use href="#mtu" x="499.81" y="189.05"/>
<use href="#mtu" x="499.84" y="189.04"/>
<use href="#mtu" x="499.87" y="189.03"/>
<use href="#mtu" x="499.90" y="189.02"/>
<use href="#mtu" x="499.93" y="189.00"/>
<use href="#mtu" x="499.97" y="188.99"/>
<use href="#mtu" x="500.00" y="188.97"/>
<use href="#mtu" x="500.04" y="188.96"/>
<use href="#mtu" x="500.07" y="188.94"/>
<use href="#mtu" x="500.11" y="188.93"/>
<use href="#mtu" x="500.15" y="188.91"/>
<use href="#mtu" x="500.19" y="188.89"/>
<use href="#mtu" x="500.23" y="188.88"/>
<use href="#mtu" x="500.27" y="188.86"/>
<use href="#mtu" x="500.32" y="188.84"/>
<use href="#mtu" x="500.36" y="188.82"/>
<use href="#mtu" x="500.41" y="188.80"/>
<use href="#mtu" x="500.46" y="188.78"/>
<use href="#mtu" x="500.51" y="188.76"/>
<use href="#mtu" x="500.57" y="188.73"/>
<use href="#mtu" x="500.62" y="188.71"/>
<use href="#mtu" x="500.68" y="188.69"/>
<use href="#mtu" x="500.74" y="188.66"/>
<use href="#mtu" x="500.80" y="188.63"/>
<use href="#mtu" x="500.86" y="188.61"/>
<use href="#mtu" x="500.93" y="188.58"/>
<use href="#mtu" x="501.00" y="188.55"/>
<use href="#mtu" x="501.07" y="188.52"/>
<use href="#mtu" x="501.14" y="188.49"/>
<use href="#mtu" x="501.21" y="188.46"/>
<use href="#mtu" x="501.29" y="188.42"/>
<use href="#mtu" x="501.37" y="188.39"/>
<use href="#mtu" x="501.46" y="188.35"/>
<use href="#mtu" x="501.54" y="188.32"/>
<use href="#mtu" x="501.63" y="188.28"/>
<use href="#mtu" x="501.72" y="188.24"/>
<use href="#mtu" x="501.82" y="188.20"/>
<use href="#mtu" x="501.92" y="188.16"/>
<use href="#mtu" x="502.02" y="188.11"/>
<use href="#mtu" x="502.13" y="188.07"/>
<use href="#mtu" x="502.24" y="188.02"/>
<use href="#mtu" x="502.35" y="187.97"/>
<use href="#mtu" x="502.47" y="187.92"/>
<use href="#mtu" x="502.59" y="187.87"/>
<use href="#mtu" x="502.72" y="187.82"/>
<use href="#mtu" x="502.85" y="187.76"/>
<use href="#mtu" x="502.98" y="187.70"/>
<use href="#mtu" x="503.12" y="187.65"/>
<use href="#mtu" x="503.27" y="187.58"/>
<use href="#mtu" x="503.42" y="187.52"/>
<use href="#mtu" x="503.57" y="187.45"/>
<use href="#mtu" x="503.73" y="187.39"/>
<use href="#mtu" x="503.90" y="187.31"/>
<use href="#mtu" x="504.07" y="187.24"/>
<use href="#mtu" x="504.25" y="187.17"/>
<use href="#mtu" x="504.43" y="187.09"/>
<use href="#mtu" x="504.62" y="187.01"/>
<use href="#mtu" x="504.82" y="186.92"/>
<use href="#mtu" x="505.03" y="186.83"/>
<use href="#mtu" x="505.24" y="186.74"/>
<use href="#mtu" x="505.46" y="186.65"/>
<use href="#mtu" x="505.69" y="186.55"/>
<use href="#mtu" x="505.92" y="186.45"/>
<use href="#mtu" x="506.16" y="186.35"/>
<use href="#mtu" x="506.41" y="186.24"/>
<use href="#mtu" x="506.68" y="186.13"/>
<use href="#mtu" x="506.95" y="186.02"/>
<use href="#mtu" x="507.22" y="185.90"/>
<use href="#mtu" x="507.51" y="185.78"/>
<use href="#mtu" x="507.81" y="185.65"/>
<use href="#mtu" x="508.12" y="185.52"/>
<use href="#mtu" x="508.44" y="185.38"/>
<use href="#mtu" x="508.77" y="185.24"/>
<use href="#mtu" x="509.12" y="185.09"/>
<use href="#mtu" x="509.47" y="184.94"/>
<use href="#mtu" x="509.84" y="184.78"/>
<use href="#mtu" x="510.22" y="184.62"/>
<use href="#mtu" x="510.62" y="184.45"/>
<use href="#mtu" x="511.03" y="184.28"/>
<use href="#mtu" x="511.45" y="184.10"/>
<use href="#mtu" x="511.89" y="183.91"/>
<use href="#mtu" x="512.34" y="183.72"/>
<use href="#mtu" x="512.81" y="183.52"/>
<use href="#mtu" x="513.29" y="183.32"/>
<use href="#mtu" x="513.79" y="183.10"/>
<use href="#mtu" x="514.31" y="182.88"/>
<use href="#mtu" x="514.85" y="182.65"/>
<use href="#mtu" x="515.41" y="182.41"/>
<use href="#mtu" x="515.99" y="182.17"/>
<use href="#mtu" x="516.58" y="181.91"/>
<use href="#mtu" x="517.20" y="181.65"/>
<use href="#mtu" x="517.84" y="181.38"/>
<use href="#mtu" x="518.50" y="181.10"/>
<use href="#mtu" x="519.19" y="180.80"/>
<use href="#mtu" x="519.90" y="180.50"/>
<use href="#mtu" x="520.63" y="180.19"/>
<use href="#mtu" x="521.39" y="179.87"/>
<use href="#mtu" x="522.18" y="179.53"/>
<use href="#mtu" x="522.99" y="179.18"/>
<use href="#mtu" x="523.84" y="178.83"/>
<use href="#mtu" x="524.71" y="178.45"/>
<use href="#mtu" x="525.61" y="178.07"/>
<use href="#mtu" x="526.55" y="177.67"/>
<use href="#mtu" x="527.52" y="177.26"/>
<use href="#mtu" x="528.52" y="176.83"/>
<use href="#mtu" x="529.56" y="176.39"/>
<use href="#mtu" x="530.63" y="175.93"/>
<use href="#mtu" x="531.74" y="175.46"/>
<use href="#mtu" x="532.89" y="174.97"/>
<use href="#mtu" x="534.08" y="174.46"/>
<use href="#mtu" x="535.32" y="173.94"/>
<use href="#mtu" x="536.59" y="173.40"/>
<use href="#mtu" x="537.91" y="172.83"/>
<use href="#mtu" x="539.28" y="172.25"/>
<use href="#mtu" x="540.70" y="171.65"/>
<use href="#mtu" x="542.16" y="171.02"/>
<use href="#mtu" x="543.68" y="170.38"/>
<use href="#mtu" x="545.25" y="169.71"/>
<use href="#mtu" x="546.87" y="169.02"/>
<use href="#mtu" x="548.56" y="168.30"/>
<use href="#mtu" x="550.30" y="167.56"/>
<use href="#mtu" x="552.10" y="166.79"/>
<use href="#mtu" x="553.97" y="166.00"/>
<use href="#mtu" x="555.90" y="165.18"/>
<use href="#mtu" x="557.90" y="164.32"/>
<use href="#mtu" x="559.97" y="163.44"/>
<use href="#mtu" x="562.11" y="162.53"/>
<use href="#mtu" x="564.33" y="161.59"/>
<use href="#mtu" x="566.63" y="160.61"/>
<use href="#mtu" x="569.00" y="159.60"/>
<use href="#mtu" x="571.46" y="158.55"/>
<use href="#mtu" x="574.01" y="157.47"/>
<use href="#mtu" x="576.64" y="156.34"/>
<use href="#mtu" x="579.37" y="155.18"/>
<use href="#mtu" x="582.20" y="153.98"/>
<use href="#mtu" x="585.12" y="152.74"/>
<use href="#mtu" x="588.15" y="151.45"/>
<use href="#mtu" x="591.28" y="150.11"/>
<use href="#mtu" x="594.52" y="148.73"/>
<use href="#mtu" x="597.88" y="147.30"/>
<use href="#mtu" x="601.35" y="145.82"/>
<use href="#mtu" x="604.95" y="144.29"/>
<use href="#mtu" x="608.68" y="142.71"/>
<use href="#mtu" x="612.53" y="141.07"/>
<use href="#mtu" x="616.52" y="139.37"/>
<use href="#mtu" x="620.65" y="137.61"/>
<use href="#mtu" x="624.92" y="135.79"/>
<use href="#mtu" x="629.35" y="133.91"/>
<use href="#mtu" x="633.93" y="131.96"/>
<use href="#mtu" x="638.67" y="129.94"/>
<use href="#mtu" x="643.58" y="127.85"/>
<use href="#mtu" x="648.66" y="125.68"/>
<use href="#mtu" x="653.92" y="123.44"/>
<use href="#mtu" x="659.36" y="121.13"/>
<use href="#mtu" x="665.00" y="118.73"/>
<use href="#mci" x="499.17" y="189.36"/>
<use href="#mci" x="499.17" y="189.35"/>
<use href="#mci" x="499.18" y="189.35"/>
<use href="#mci" x="499.18" y="189.35"/>
<use href="#mci" x="499.19" y="189.35"/>
<use href="#mci" x="499.20" y="189.35"/>
<use href="#mci" x="499.20" y="189.35"/>
<use href="#mci" x="499.21" y="189.34"/>
<use href="#mci" x="499.22" y="189.34"/>
<use href="#mci" x="499.23" y="189.34"/>
<use href="#mci" x="499.23" y="189.34"/>
<use href="#mci" x="499.24" y="189.33"/>
<use href="#mci" x="499.25" y="189.33"/>
<use href="#mci" x="499.26" y="189.33"/>
<use href="#mci" x="499.27" y="189.33"/>
<use href="#mci" x="499.28" y="189.33"/>
<use href="#mci" x="499.29" y="189.32"/>
<use href="#mci" x="499.30" y="189.32"/>
<use href="#mci" x="499.31" y="189.32"/>
<use href="#mci" x="499.32" y="189.31"/>
<use href="#mci" x="499.33" y="189.31"/>
<use href="#mci" x="499.34" y="189.31"/>
<use href="#mci" x="499.35" y="189.30"/>
<use href="#mci" x="499.37" y="189.30"/>
<use href="#mci" x="499.38" y="189.30"/>
<use href="#mci" x="499.39" y="189.29"/>
<use href="#mci" x="499.41" y="189.29"/>
<use href="#mci" x="499.42" y="189.29"/>
<use href="#mci" x="499.44" y="189.28"/>
<use href="#mci" x="499.45" y="189.28"/>
<use href="#mci" x="499.47" y="189.27"/>
<use href="#mci" x="499.48" y="189.27"/>
<use href="#mci" x="499.50" y="189.27"/>
<use href="#mci" x="499.52" y="189.26"/>
<use href="#mci" x="499.54" y="189.26"/>
<use href="#mci" x="499.56" y="189.25"/>
<use href="#mci" x="499.58" y="189.25"/>
<use href="#mci" x="499.60" y="189.24"/>
<use href="#mci" x="499.62" y="189.23"/>
<use href="#mci" x="499.64" y="189.23"/>
<use href="#mci" x="499.66" y="189.22"/>
<use href="#mci" x="499.68" y="189.22"/>
<use href="#mci" x="499.71" y="189.21"/>
<use href="#mci" x="499.73" y="189.20"/>
<use href="#mci" x="499.76" y="189.20"/>
<use href="#mci" x="499.79" y="189.19"/>
<use href="#mci" x="499.81" y="189.18"/>
<use href="#mci" x="499.84" y="189.17"/>
<use href="#mci" x="499.87" y="189.17"/>
<use href="#mci" x="499.90" y="189.16"/>
<use href="#mci" x="499.93" y="189.15"/>
<use href="#mci" x="499.97" y="189.14"/>
<use href="#mci" x="500.00" y="189.13"/>
<use href="#mci" x="500.04" y="189.12"/>
<use href="#mci" x="500.07" y="189.11"/>
<use href="#mci" x="500.11" y="189.10"/>
<use href="#mci" x="500.15" y="189.09"/>
<use href="#mci" x="500.19" y="189.08"/>
<use href="#mci" x="500.23" y="189.07"/>
<use href="#mci" x="500.27" y="189.06"/>
<use href="#mci" x="500.32" y="189.05"/>
<use href="#mci" x="500.36" y="189.03"/>
<use href="#mci" x="500.41" y="189.02"/>
<use href="#mci" x="500.46" y="189.01"/>
<use href="#mci" x="500.51" y="188.99"/>
<use href="#mci" x="500.57" y="188.98"/>
<use href="#mci" x="500.62" y="188.96"/>
<use href="#mci" x="500.68" y="188.95"/>
<use href="#mci" x="500.74" y="188.93"/>
<use href="#mci" x="500.80" y="188.92"/>
<use href="#mci" x="500.86" y="188.90"/>
<use href="#mci" x="500.93" y="188.88"/>
<use href="#mci" x="501.00" y="188.86"/>
<use href="#mci" x="501.07" y="188.85"/>
<use href="#mci" x="501.14" y="188.83"/>
<use href="#mci" x="501.21" y="188.81"/>
<use href="#mci" x="501.29" y="188.79"/>
<use href="#mci" x="501.37" y="188.76"/>
<use href="#mci" x="501.46" y="188.74"/>
<use href="#mci" x="501.54" y="188.72"/>
<use href="#mci" x="501.63" y="188.69"/>
<use href="#mci" x="501.72" y="188.67"/>
<use href="#mci" x="501.82" y="188.64"/>
<use href="#mci" x="501.92" y="188.62"/>
<use href="#mci" x="502.02" y="188.59"/>
<use href="#mci" x="502.13" y="188.56"/>
<use href="#mci" x="502.24" y="188.53"/>
<use href="#mci" x="502.35" y="188.50"/>
<use href="#mci" x="502.47" y="188.47"/>
<use href="#mci" x="502.59" y="188.44"/>
<use href="#mci" x="502.72" y="188.40"/>
<use href="#mci" x="502.85" y="188.37"/>
<use href="#mci" x="502.98" y="188.33"/>
<use href="#mci" x="503.12" y="188.29"/>
<use href="#mci" x="503.27" y="188.25"/>
<use href="#mci" x="503.42" y="188.21"/>
<use href="#mci" x="503.57" y="188.17"/>
<use href="#mci" x="503.73" y="188.13"/>
<use href="#mci" x="503.90" y="188.09"/>
<use href="#mci" x="504.07" y="188.04"/>
<use href="#mci" x="504.25" y="187.99"/>
<use href="#mci" x="504.43" y="187.94"/>
<use href="#mci" x="504.62" y="187.89"/>
<use href="#mci" x="504.82" y="187.84"/>
<use href="#mci" x="505.03" y="187.78"/>
<use href="#mci" x="505.24" y="187.73"/>
<use href="#mci" x="505.46" y="187.67"/>
<use href="#mci" x="505.69" y="187.61"/>
<use href="#mci" x="505.92" y="187.54"/>
<use href="#mci" x="506.16" y="187.48"/>
<use href="#mci" x="506.41" y="187.41"/>
<use href="#mci" x="506.68" y="187.34"/>
<use href="#mci" x="506.95" y="187.27"/>
<use href="#mci" x="507.22" y="187.19"/>
<use href="#mci" x="507.51" y="187.12"/>
<use href="#mci" x="507.81" y="187.03"/>
<use href="#mci" x="508.12" y="186.95"/>
<use href="#mci" x="508.44" y="186.87"/>
<use href="#mci" x="508.77" y="186.78"/>
<use href="#mci" x="509.12" y="186.68"/>
<use href="#mci" x="509.47" y="186.59"/>
<use href="#mci" x="509.84" y="186.49"/>
<use href="#mci" x="510.22" y="186.39"/>
<use href="#mci" x="510.62" y="186.28"/>
<use href="#mci" x="511.03" y="186.17"/>
<use href="#mci" x="511.45" y="186.06"/>
<use href="#mci" x="511.89" y="185.94"/>
<use href="#mci" x="512.34" y="185.82"/>
<use href="#mci" x="512.81" y="185.69"/>
<use href="#mci" x="513.29" y="185.56"/>
<use href="#mci" x="513.79" y="185.43"/>
<use href="#mci" x="514.31" y="185.29"/>
<use href="#mci" x="514.85" y="185.15"/>
<use href="#mci" x="515.41" y="185.00"/>
<use href="#mci" x="515.99" y="184.84"/>
<use href="#mci" x="516.58" y="184.68"/>
<use href="#mci" x="517.20" y="184.52"/>
<use href="#mci" x="517.84" y="184.34"/>
<use href="#mci" x="518.50" y="184.17"/>
<use href="#mci" x="519.19" y="183.98"/>
<use href="#mci" x="519.90" y="183.79"/>
<use href="#mci" x="520.63" y="183.59"/>
<use href="#mci" x="521.39" y="183.39"/>
<use href="#mci" x="522.18" y="183.18"/>
<use href="#mci" x="522.99" y="182.96"/>
<use href="#mci" x="523.84" y="182.73"/>
<use href="#mci" x="524.71" y="182.50"/>
<use href="#mci" x="525.61" y="182.26"/>
<use href="#mci" x="526.55" y="182.01"/>
<use href="#mci" x="527.52" y="181.75"/>
<use href="#mci" x="528.52" y="181.48"/>
<use href="#mci" x="529.56" y="181.20"/>
<use href="#mci" x="530.63" y="180.91"/>
<use href="#mci" x="531.74" y="180.61"/>
<use href="#mci" x="532.89" y="180.30"/>
<use href="#mci" x="534.08" y="179.98"/>
<use href="#mci" x="535.32" y="179.65"/>
<use href="#mci" x="536.59" y="179.31"/>
<use href="#mci" x="537.91" y="178.96"/>
<use href="#mci" x="539.28" y="178.59"/>
<use href="#mci" x="540.70" y="178.21"/>
<use href="#mci" x="542.16" y="177.82"/>
<use href="#mci" x="543.68" y="177.41"/>
<use href="#mci" x="545.25" y="176.99"/>
<use href="#mci" x="546.87" y="176.55"/>
<use href="#mci" x="548.56" y="176.10"/>
<use href="#mci" x="550.30" y="175.63"/>
<use href="#mci" x="552.10" y="175.15"/>
<use href="#mci" x="553.97" y="174.65"/>
<use href="#mci" x="555.90" y="174.13"/>
<use href="#mci" x="557.90" y="173.59"/>
<use href="#mci" x="559.97" y="173.04"/>
<use href="#mci" x="562.11" y="172.46"/>
<use href="#mci" x="564.33" y="171.87"/>
<use href="#mci" x="566.63" y="171.25"/>
<use href="#mci" x="569.00" y="170.61"/>
<use href="#mci" x="571.46" y="169.95"/>
<use href="#mci" x="574.01" y="169.27"/>
<use href="#mci" x="576.64" y="168.56"/>
<use href="#mci" x="579.37" y="167.83"/>
<use href="#mci" x="582.20" y="167.07"/>
<use href="#mci" x="585.12" y="166.29"/>
<use href="#mci" x="588.15" y="165.48"/>
<use href="#mci" x="591.28" y="164.63"/>
<use href="#mci" x="594.52" y="163.76"/>
<use href="#mci" x="597.88" y="162.86"/>
<use href="#mci" x="601.35" y="161.93"/>
<use href="#mci" x="604.95" y="160.97"/>
<use href="#mci" x="608.68" y="159.97"/>
<use href="#mci" x="612.53" y="158.93"/>
<use href="#mci" x="616.52" y="157.86"/>
<use href="#mci" x="620.65" y="156.75"/>
<use href="#mci" x="624.92" y="155.61"/>
<use href="#mci" x="629.35" y="154.42"/>
<use href="#mci" x="633.93" y="153.19"/>
<use href="#mci" x="638.67" y="151.92"/>
<use href="#mci" x="643.58" y="150.60"/>
<use href="#mci" x="648.66" y="149.24"/>
<use href="#mci" x="653.92" y="147.82"/>
<use href="#mci" x="659.36" y="146.36"/>
<use href="#mci" x="665.00" y="144.85"/>
<line x1="499.00" y1="189.40" x2="684.92" y2="31.55" stroke="#333" stroke-width="0.6"/>
<line x1="499.00" y1="189.40" x2="684.92" y2="76.00" stroke="#333" stroke-width="0.6"/>
<line x1="499.00" y1="189.40" x2="684.92" y2="110.25" stroke="#333" stroke-width="0.6"/>
<line x1="499.00" y1="189.40" x2="684.92" y2="139.50" stroke="#333" stroke-width="0.6"/>
</g>
<rect x="498.60" y="27.40" width="182.90" height="162.00" fill="none" stroke="#747474" stroke-width="1.1"/>
<line x1="515.60" y1="189.40" x2="515.60" y2="187.40" stroke="#747474" stroke-width="0.9"/>
<line x1="515.60" y1="27.40" x2="515.60" y2="29.40" stroke="#747474" stroke-width="0.9"/>
<line x1="532.20" y1="189.40" x2="532.20" y2="185.20" stroke="#747474" stroke-width="0.9"/>
<line x1="532.20" y1="27.40" x2="532.20" y2="31.60" stroke="#747474" stroke-width="0.9"/>
<line x1="548.80" y1="189.40" x2="548.80" y2="187.40" stroke="#747474" stroke-width="0.9"/>
<line x1="548.80" y1="27.40" x2="548.80" y2="29.40" stroke="#747474" stroke-width="0.9"/>
<line x1="565.40" y1="189.40" x2="565.40" y2="185.20" stroke="#747474" stroke-width="0.9"/>
<line x1="565.40" y1="27.40" x2="565.40" y2="31.60" stroke="#747474" stroke-width="0.9"/>
<line x1="582.00" y1="189.40" x2="582.00" y2="187.40" stroke="#747474" stroke-width="0.9"/>
<line x1="582.00" y1="27.40" x2="582.00" y2="29.40" stroke="#747474" stroke-width="0.9"/>
<line x1="598.60" y1="189.40" x2="598.60" y2="185.20" stroke="#747474" stroke-width="0.9"/>
<line x1="598.60" y1="27.40" x2="598.60" y2="31.60" stroke="#747474" stroke-width="0.9"/>
<line x1="615.20" y1="189.40" x2="615.20" y2="187.40" stroke="#747474" stroke-width="0.9"/>
<line x1="615.20" y1="27.40" x2="615.20" y2="29.40" stroke="#747474" stroke-width="0.9"/>
<line x1="631.80" y1="189.40" x2="631.80" y2="185.20" stroke="#747474" stroke-width="0.9"/>
<line x1="631.80" y1="27.40" x2="631.80" y2="31.60" stroke="#747474" stroke-width="0.9"/>
<line x1="648.40" y1="189.40" x2="648.40" y2="187.40" stroke="#747474" stroke-width="0.9"/>
<line x1="648.40" y1="27.40" x2="648.40" y2="29.40" stroke="#747474" stroke-width="0.9"/>
<line x1="665.00" y1="189.40" x2="665.00" y2="185.20" stroke="#747474" stroke-width="0.9"/>
<line x1="665.00" y1="27.40" x2="665.00" y2="31.60" stroke="#747474" stroke-width="0.9"/>
<line x1="498.60" y1="169.15" x2="500.60" y2="169.15" stroke="#747474" stroke-width="0.9"/>
<line x1="681.50" y1="169.15" x2="679.50" y2="169.15" stroke="#747474" stroke-width="0.9"/>
<line x1="498.60" y1="148.90" x2="502.80" y2="148.90" stroke="#747474" stroke-width="0.9"/>
<line x1="681.50" y1="148.90" x2="677.30" y2="148.90" stroke="#747474" stroke-width="0.9"/>
<line x1="498.60" y1="128.65" x2="500.60" y2="128.65" stroke="#747474" stroke-width="0.9"/>
<line x1="681.50" y1="128.65" x2="679.50" y2="128.65" stroke="#747474" stroke-width="0.9"/>
<line x1="498.60" y1="108.40" x2="502.80" y2="108.40" stroke="#747474" stroke-width="0.9"/>
<line x1="681.50" y1="108.40" x2="677.30" y2="108.40" stroke="#747474" stroke-width="0.9"/>
<line x1="498.60" y1="88.15" x2="500.60" y2="88.15" stroke="#747474" stroke-width="0.9"/>
<line x1="681.50" y1="88.15" x2="679.50" y2="88.15" stroke="#747474" stroke-width="0.9"/>
<line x1="498.60" y1="67.90" x2="502.80" y2="67.90" stroke="#747474" stroke-width="0.9"/>
<line x1="681.50" y1="67.90" x2="677.30" y2="67.90" stroke="#747474" stroke-width="0.9"/>
<line x1="498.60" y1="47.65" x2="500.60" y2="47.65" stroke="#747474" stroke-width="0.9"/>
<line x1="681.50" y1="47.65" x2="679.50" y2="47.65" stroke="#747474" stroke-width="0.9"/>
<text x="493.60" y="192.10" font-size="9" text-anchor="end" textLength="20.27" lengthAdjust="spacingAndGlyphs" fill="#111111" stroke="#111111" stroke-width="0.22">0.000</text>
<text x="493.60" y="151.60" font-size="9" text-anchor="end" textLength="20.27" lengthAdjust="spacingAndGlyphs" fill="#111111" stroke="#111111" stroke-width="0.22">0.001</text>
<text x="493.60" y="111.10" font-size="9" text-anchor="end" textLength="20.27" lengthAdjust="spacingAndGlyphs" fill="#111111" stroke="#111111" stroke-width="0.22">0.002</text>
<text x="493.60" y="70.60" font-size="9" text-anchor="end" textLength="20.27" lengthAdjust="spacingAndGlyphs" fill="#111111" stroke="#111111" stroke-width="0.22">0.003</text>
<text x="493.60" y="30.10" font-size="9" text-anchor="end" textLength="20.27" lengthAdjust="spacingAndGlyphs" fill="#111111" stroke="#111111" stroke-width="0.22">0.004</text>
<text x="499.00" y="202.20" font-size="9" text-anchor="middle" textLength="4.5" lengthAdjust="spacingAndGlyphs" fill="#111111" stroke="#111111" stroke-width="0.22">0</text>
<text x="532.20" y="202.20" font-size="9" text-anchor="middle" textLength="9.01" lengthAdjust="spacingAndGlyphs" fill="#111111" stroke="#111111" stroke-width="0.22">20</text>
<text x="565.40" y="202.20" font-size="9" text-anchor="middle" textLength="9.01" lengthAdjust="spacingAndGlyphs" fill="#111111" stroke="#111111" stroke-width="0.22">40</text>
<text x="598.60" y="202.20" font-size="9" text-anchor="middle" textLength="9.01" lengthAdjust="spacingAndGlyphs" fill="#111111" stroke="#111111" stroke-width="0.22">60</text>
<text x="631.80" y="202.20" font-size="9" text-anchor="middle" textLength="9.01" lengthAdjust="spacingAndGlyphs" fill="#111111" stroke="#111111" stroke-width="0.22">80</text>
<text x="665.00" y="202.20" font-size="9" text-anchor="middle" textLength="13.51" lengthAdjust="spacingAndGlyphs" fill="#111111" stroke="#111111" stroke-width="0.22">100</text>
<text x="514.60" y="45.00" font-size="10.6" textLength="60.3" lengthAdjust="spacingAndGlyphs" fill="#111111" stroke="#111111" stroke-width="0.16">MgO 4.0nm</text>
<rect x="509.3" y="49.9" width="51.0" height="48.4" fill="white" stroke="#555" stroke-width="0.8"/>
<use href="#mtd" x="519.2" y="57.6"/>
<use href="#msq" x="519.2" y="68.7"/>
<use href="#mtu" x="519.2" y="80.4"/>
<use href="#mci" x="519.2" y="92.4"/>
<text x="553.00" y="60.30" font-size="7.4" text-anchor="end" fill="#111111" stroke="#111111" stroke-width="0.22">144μm</text>
<text x="553.40" y="56.70" font-size="5" fill="#111111" stroke="#111111" stroke-width="0.22">2</text>
<text x="553.00" y="71.40" font-size="7.4" text-anchor="end" fill="#111111" stroke="#111111" stroke-width="0.22">100μm</text>
<text x="553.40" y="67.80" font-size="5" fill="#111111" stroke="#111111" stroke-width="0.22">2</text>
<text x="553.00" y="83.00" font-size="7.4" text-anchor="end" fill="#111111" stroke="#111111" stroke-width="0.22">64μm</text>
<text x="553.40" y="79.40" font-size="5" fill="#111111" stroke="#111111" stroke-width="0.22">2</text>
<text x="553.00" y="95.00" font-size="7.4" text-anchor="end" fill="#111111" stroke="#111111" stroke-width="0.22">36μm</text>
<text x="553.40" y="91.40" font-size="5" fill="#111111" stroke="#111111" stroke-width="0.22">2</text>
<text x="572.20" y="213.40" font-size="8.6" font-style="italic" fill="#111111" stroke="#111111" stroke-width="0.22">f</text>
<text x="576.60" y="213.40" font-size="8.4" textLength="25.6" lengthAdjust="spacingAndGlyphs" fill="#111111" stroke="#111111" stroke-width="0.22">(MHz)</text>
<text transform="translate(468.0,108.4) rotate(-90)" font-size="9.4" text-anchor="middle" fill="#111111" stroke="#111111" stroke-width="0.12">(−<tspan font-style="italic">Z</tspan>″)<tspan font-size="6.4" dy="-3.4">−1</tspan></text>
<defs><radialGradient id="gr" cx="0.5" cy="0.5" r="0.5" fx="0.37" fy="0.33"><stop offset="0" stop-color="#ffffff"/><stop offset="0.12" stop-color="#ffffff" stop-opacity="0.95"/><stop offset="0.32" stop-color="#ff6060"/><stop offset="0.6" stop-color="#f01010"/><stop offset="0.88" stop-color="#f01010"/><stop offset="1" stop-color="#a00000"/></radialGradient><radialGradient id="gb" cx="0.5" cy="0.5" r="0.5" fx="0.37" fy="0.33"><stop offset="0" stop-color="#ffffff"/><stop offset="0.12" stop-color="#ffffff" stop-opacity="0.95"/><stop offset="0.32" stop-color="#6060ff"/><stop offset="0.6" stop-color="#1010f0"/><stop offset="0.88" stop-color="#1010f0"/><stop offset="1" stop-color="#0000a0"/></radialGradient><radialGradient id="gg" cx="0.5" cy="0.5" r="0.5" fx="0.37" fy="0.33"><stop offset="0" stop-color="#ffffff"/><stop offset="0.12" stop-color="#ffffff" stop-opacity="0.95"/><stop offset="0.32" stop-color="#60b060"/><stop offset="0.6" stop-color="#229022"/><stop offset="0.88" stop-color="#229022"/><stop offset="1" stop-color="#106010"/></radialGradient><radialGradient id="go" cx="0.5" cy="0.5" r="0.5" fx="0.37" fy="0.33"><stop offset="0" stop-color="#ffffff"/><stop offset="0.12" stop-color="#ffffff" stop-opacity="0.95"/><stop offset="0.32" stop-color="#f8b070"/><stop offset="0.6" stop-color="#e07a28"/><stop offset="0.88" stop-color="#e07a28"/><stop offset="1" stop-color="#a05010"/></radialGradient><radialGradient id="gB" cx="0.5" cy="0.5" r="0.5" fx="0.37" fy="0.33"><stop offset="0" stop-color="#ffffff"/><stop offset="0.12" stop-color="#ffffff" stop-opacity="0.95"/><stop offset="0.32" stop-color="#7070ff"/><stop offset="0.6" stop-color="#0a0af5"/><stop offset="0.88" stop-color="#0a0af5"/><stop offset="1" stop-color="#0000b0"/></radialGradient></defs>
<defs><clipPath id="clipe"><rect x="260.2" y="262.3" width="188.1" height="161.7"/></clipPath></defs>
<g clip-path="url(#clipe)">
<line x1="260.20" y1="415.11" x2="448.30" y2="300.92" stroke="#ff4040" stroke-width="0.65"/>
<line x1="260.20" y1="415.11" x2="448.30" y2="297.49" stroke="#444" stroke-width="0.7" stroke-dasharray="2.5,2"/>
<line x1="260.20" y1="415.11" x2="448.30" y2="344.98" stroke="#3030ff" stroke-width="0.65"/>
<line x1="260.20" y1="415.11" x2="448.30" y2="343.56" stroke="#444" stroke-width="0.7" stroke-dasharray="2.5,2"/>
<line x1="260.20" y1="415.11" x2="448.30" y2="363.57" stroke="#30a030" stroke-width="0.65"/>
<line x1="260.20" y1="415.11" x2="448.30" y2="375.50" stroke="#f0a060" stroke-width="0.65"/>
<line x1="260.20" y1="415.11" x2="448.30" y2="375.09" stroke="#444" stroke-width="0.7" stroke-dasharray="2.5,2"/>
</g>
<circle cx="302.52" cy="388.63" r="4.0" fill="white" stroke="#333" stroke-width="0.7"/>
<circle cx="335.44" cy="366.00" r="4.0" fill="white" stroke="#333" stroke-width="0.7"/>
<circle cx="377.76" cy="340.33" r="4.0" fill="white" stroke="#333" stroke-width="0.7"/>
<circle cx="429.49" cy="307.99" r="4.0" fill="white" stroke="#333" stroke-width="0.7"/>
<circle cx="302.52" cy="398.13" r="4.0" fill="white" stroke="#333" stroke-width="0.7"/>
<circle cx="335.44" cy="386.21" r="4.0" fill="white" stroke="#333" stroke-width="0.7"/>
<circle cx="377.76" cy="370.04" r="4.0" fill="white" stroke="#333" stroke-width="0.7"/>
<circle cx="429.49" cy="350.84" r="4.0" fill="white" stroke="#333" stroke-width="0.7"/>
<circle cx="302.52" cy="402.98" r="4.0" fill="white" stroke="#333" stroke-width="0.7"/>
<circle cx="335.44" cy="393.28" r="4.0" fill="white" stroke="#333" stroke-width="0.7"/>
<circle cx="377.76" cy="382.57" r="4.0" fill="white" stroke="#333" stroke-width="0.7"/>
<circle cx="429.49" cy="369.43" r="4.0" fill="white" stroke="#333" stroke-width="0.7"/>
<circle cx="302.52" cy="405.81" r="4.0" fill="white" stroke="#333" stroke-width="0.7"/>
<circle cx="335.44" cy="398.94" r="4.0" fill="white" stroke="#333" stroke-width="0.7"/>
<circle cx="377.76" cy="390.05" r="4.0" fill="white" stroke="#333" stroke-width="0.7"/>
<circle cx="429.49" cy="379.54" r="4.0" fill="white" stroke="#333" stroke-width="0.7"/>
<circle cx="302.52" cy="388.83" r="3.9" fill="url(#gr)"/>
<circle cx="335.44" cy="368.02" r="3.9" fill="url(#gr)"/>
<circle cx="377.76" cy="342.96" r="3.9" fill="url(#gr)"/>
<circle cx="429.49" cy="312.04" r="3.9" fill="url(#gr)"/>
<circle cx="302.52" cy="398.94" r="3.9" fill="url(#gb)"/>
<circle cx="335.44" cy="387.02" r="3.9" fill="url(#gb)"/>
<circle cx="377.76" cy="371.25" r="3.9" fill="url(#gb)"/>
<circle cx="429.49" cy="352.46" r="3.9" fill="url(#gb)"/>
<circle cx="302.52" cy="403.18" r="3.9" fill="url(#gg)"/>
<circle cx="335.44" cy="393.48" r="3.9" fill="url(#gg)"/>
<circle cx="377.76" cy="382.77" r="3.9" fill="url(#gg)"/>
<circle cx="429.49" cy="369.43" r="3.9" fill="url(#gg)"/>
<circle cx="302.52" cy="406.42" r="3.9" fill="url(#go)"/>
<circle cx="335.44" cy="399.14" r="3.9" fill="url(#go)"/>
<circle cx="377.76" cy="390.25" r="3.9" fill="url(#go)"/>
<circle cx="429.49" cy="379.54" r="3.9" fill="url(#go)"/>
<rect x="260.20" y="262.30" width="188.10" height="161.70" fill="none" stroke="#747474" stroke-width="1.1"/>
<line x1="271.96" y1="424.00" x2="271.96" y2="422.00" stroke="#747474" stroke-width="0.9"/>
<line x1="271.96" y1="262.30" x2="271.96" y2="264.30" stroke="#747474" stroke-width="0.9"/>
<line x1="283.71" y1="424.00" x2="283.71" y2="419.80" stroke="#747474" stroke-width="0.9"/>
<line x1="283.71" y1="262.30" x2="283.71" y2="266.50" stroke="#747474" stroke-width="0.9"/>
<line x1="295.47" y1="424.00" x2="295.47" y2="422.00" stroke="#747474" stroke-width="0.9"/>
<line x1="295.47" y1="262.30" x2="295.47" y2="264.30" stroke="#747474" stroke-width="0.9"/>
<line x1="307.22" y1="424.00" x2="307.22" y2="419.80" stroke="#747474" stroke-width="0.9"/>
<line x1="307.22" y1="262.30" x2="307.22" y2="266.50" stroke="#747474" stroke-width="0.9"/>
<line x1="318.98" y1="424.00" x2="318.98" y2="422.00" stroke="#747474" stroke-width="0.9"/>
<line x1="318.98" y1="262.30" x2="318.98" y2="264.30" stroke="#747474" stroke-width="0.9"/>
<line x1="330.74" y1="424.00" x2="330.74" y2="419.80" stroke="#747474" stroke-width="0.9"/>
<line x1="330.74" y1="262.30" x2="330.74" y2="266.50" stroke="#747474" stroke-width="0.9"/>
<line x1="342.49" y1="424.00" x2="342.49" y2="422.00" stroke="#747474" stroke-width="0.9"/>
<line x1="342.49" y1="262.30" x2="342.49" y2="264.30" stroke="#747474" stroke-width="0.9"/>
<line x1="354.25" y1="424.00" x2="354.25" y2="419.80" stroke="#747474" stroke-width="0.9"/>
<line x1="354.25" y1="262.30" x2="354.25" y2="266.50" stroke="#747474" stroke-width="0.9"/>
<line x1="366.00" y1="424.00" x2="366.00" y2="422.00" stroke="#747474" stroke-width="0.9"/>
<line x1="366.00" y1="262.30" x2="366.00" y2="264.30" stroke="#747474" stroke-width="0.9"/>
<line x1="377.76" y1="424.00" x2="377.76" y2="419.80" stroke="#747474" stroke-width="0.9"/>
<line x1="377.76" y1="262.30" x2="377.76" y2="266.50" stroke="#747474" stroke-width="0.9"/>
<line x1="389.52" y1="424.00" x2="389.52" y2="422.00" stroke="#747474" stroke-width="0.9"/>
<line x1="389.52" y1="262.30" x2="389.52" y2="264.30" stroke="#747474" stroke-width="0.9"/>
<line x1="401.27" y1="424.00" x2="401.27" y2="419.80" stroke="#747474" stroke-width="0.9"/>
<line x1="401.27" y1="262.30" x2="401.27" y2="266.50" stroke="#747474" stroke-width="0.9"/>
<line x1="413.03" y1="424.00" x2="413.03" y2="422.00" stroke="#747474" stroke-width="0.9"/>
<line x1="413.03" y1="262.30" x2="413.03" y2="264.30" stroke="#747474" stroke-width="0.9"/>
<line x1="424.78" y1="424.00" x2="424.78" y2="419.80" stroke="#747474" stroke-width="0.9"/>
<line x1="424.78" y1="262.30" x2="424.78" y2="266.50" stroke="#747474" stroke-width="0.9"/>
<line x1="436.54" y1="424.00" x2="436.54" y2="422.00" stroke="#747474" stroke-width="0.9"/>
<line x1="436.54" y1="262.30" x2="436.54" y2="264.30" stroke="#747474" stroke-width="0.9"/>
<line x1="260.20" y1="403.79" x2="262.20" y2="403.79" stroke="#747474" stroke-width="0.9"/>
<line x1="448.30" y1="403.79" x2="446.30" y2="403.79" stroke="#747474" stroke-width="0.9"/>
<line x1="260.20" y1="383.58" x2="264.40" y2="383.58" stroke="#747474" stroke-width="0.9"/>
<line x1="448.30" y1="383.58" x2="444.10" y2="383.58" stroke="#747474" stroke-width="0.9"/>
<line x1="260.20" y1="363.37" x2="262.20" y2="363.37" stroke="#747474" stroke-width="0.9"/>
<line x1="448.30" y1="363.37" x2="446.30" y2="363.37" stroke="#747474" stroke-width="0.9"/>
<line x1="260.20" y1="343.16" x2="264.40" y2="343.16" stroke="#747474" stroke-width="0.9"/>
<line x1="448.30" y1="343.16" x2="444.10" y2="343.16" stroke="#747474" stroke-width="0.9"/>
<line x1="260.20" y1="322.95" x2="262.20" y2="322.95" stroke="#747474" stroke-width="0.9"/>
<line x1="448.30" y1="322.95" x2="446.30" y2="322.95" stroke="#747474" stroke-width="0.9"/>
<line x1="260.20" y1="302.74" x2="264.40" y2="302.74" stroke="#747474" stroke-width="0.9"/>
<line x1="448.30" y1="302.74" x2="444.10" y2="302.74" stroke="#747474" stroke-width="0.9"/>
<line x1="260.20" y1="282.53" x2="262.20" y2="282.53" stroke="#747474" stroke-width="0.9"/>
<line x1="448.30" y1="282.53" x2="446.30" y2="282.53" stroke="#747474" stroke-width="0.9"/>
<text x="255.20" y="426.70" font-size="9" text-anchor="end" textLength="4.5" lengthAdjust="spacingAndGlyphs" fill="#111111" stroke="#111111" stroke-width="0.22">0</text>
<text x="255.20" y="386.28" font-size="9" text-anchor="end" textLength="4.5" lengthAdjust="spacingAndGlyphs" fill="#111111" stroke="#111111" stroke-width="0.22">2</text>
<text x="255.20" y="345.86" font-size="9" text-anchor="end" textLength="4.5" lengthAdjust="spacingAndGlyphs" fill="#111111" stroke="#111111" stroke-width="0.22">4</text>
<text x="255.20" y="305.44" font-size="9" text-anchor="end" textLength="4.5" lengthAdjust="spacingAndGlyphs" fill="#111111" stroke="#111111" stroke-width="0.22">6</text>
<text x="255.20" y="265.02" font-size="9" text-anchor="end" textLength="4.5" lengthAdjust="spacingAndGlyphs" fill="#111111" stroke="#111111" stroke-width="0.22">8</text>
<text x="260.20" y="437.00" font-size="9" text-anchor="middle" textLength="4.5" lengthAdjust="spacingAndGlyphs" fill="#111111" stroke="#111111" stroke-width="0.22">0</text>
<text x="283.71" y="437.00" font-size="9" text-anchor="middle" textLength="9.01" lengthAdjust="spacingAndGlyphs" fill="#111111" stroke="#111111" stroke-width="0.22">20</text>
<text x="307.22" y="437.00" font-size="9" text-anchor="middle" textLength="9.01" lengthAdjust="spacingAndGlyphs" fill="#111111" stroke="#111111" stroke-width="0.22">40</text>
<text x="330.74" y="437.00" font-size="9" text-anchor="middle" textLength="9.01" lengthAdjust="spacingAndGlyphs" fill="#111111" stroke="#111111" stroke-width="0.22">60</text>
<text x="354.25" y="437.00" font-size="9" text-anchor="middle" textLength="9.01" lengthAdjust="spacingAndGlyphs" fill="#111111" stroke="#111111" stroke-width="0.22">80</text>
<text x="377.76" y="437.00" font-size="9" text-anchor="middle" textLength="13.51" lengthAdjust="spacingAndGlyphs" fill="#111111" stroke="#111111" stroke-width="0.22">100</text>
<text x="401.27" y="437.00" font-size="9" text-anchor="middle" textLength="13.51" lengthAdjust="spacingAndGlyphs" fill="#111111" stroke="#111111" stroke-width="0.22">120</text>
<text x="424.78" y="437.00" font-size="9" text-anchor="middle" textLength="13.51" lengthAdjust="spacingAndGlyphs" fill="#111111" stroke="#111111" stroke-width="0.22">140</text>
<text x="448.30" y="437.00" font-size="9" text-anchor="middle" textLength="13.51" lengthAdjust="spacingAndGlyphs" fill="#111111" stroke="#111111" stroke-width="0.22">160</text>
<rect x="269.9" y="268.9" width="63.8" height="73.2" fill="white" stroke="#555" stroke-width="0.8"/>
<text x="271.50" y="277.30" font-size="8" textLength="20.8" lengthAdjust="spacingAndGlyphs" fill="#111111" stroke="#111111" stroke-width="0.22">f-dep.</text>
<text x="294.60" y="277.30" font-size="8" textLength="17.9" lengthAdjust="spacingAndGlyphs" fill="#111111" stroke="#111111" stroke-width="0.22">(w R</text>
<text x="312.60" y="279.40" font-size="5.2" fill="#111111" stroke="#111111" stroke-width="0.22">s</text>
<text x="315.00" y="277.30" font-size="8" fill="#111111" stroke="#111111" stroke-width="0.22">)</text>
<circle cx="280.00" cy="285.90" r="3.7" fill="url(#gr)"/>
<text x="291.80" y="288.80" font-size="7.8" fill="#111111" stroke="#111111" stroke-width="0.22">4.0nm</text>
<circle cx="280.00" cy="295.80" r="3.7" fill="url(#gb)"/>
<text x="291.80" y="298.70" font-size="7.8" fill="#111111" stroke="#111111" stroke-width="0.22">6.0nm</text>
<circle cx="280.00" cy="305.30" r="3.7" fill="url(#gg)"/>
<text x="291.80" y="308.20" font-size="7.8" fill="#111111" stroke="#111111" stroke-width="0.22">8.0nm</text>
<circle cx="280.00" cy="314.90" r="3.7" fill="url(#go)"/>
<text x="291.80" y="317.80" font-size="7.8" fill="#111111" stroke="#111111" stroke-width="0.22">10.0nm</text>
<text x="272.00" y="327.70" font-size="8" textLength="18.8" lengthAdjust="spacingAndGlyphs" fill="#111111" stroke="#111111" stroke-width="0.22">1MHz</text>
<text x="294.30" y="327.70" font-size="8" textLength="24.3" lengthAdjust="spacingAndGlyphs" fill="#111111" stroke="#111111" stroke-width="0.22">(w/o R</text>
<text x="318.60" y="330.10" font-size="5.2" fill="#111111" stroke="#111111" stroke-width="0.22">s</text>
<text x="322.90" y="327.70" font-size="8" fill="#111111" stroke="#111111" stroke-width="0.22">)</text>
<circle cx="280.00" cy="336.30" r="3.8" fill="white" stroke="#333" stroke-width="0.7"/>
<text x="291.80" y="339.80" font-size="7.8" textLength="40.2" lengthAdjust="spacingAndGlyphs" fill="#111111" stroke="#111111" stroke-width="0.22">4.0-10.0nm</text>
<text x="334.00" y="448.20" font-size="9.6" font-style="italic" fill="#111111" stroke="#111111" stroke-width="0.16">S</text>
<text x="342.40" y="447.80" font-size="9.0" textLength="18.8" lengthAdjust="spacingAndGlyphs" fill="#111111" stroke="#111111" stroke-width="0.22">(μm</text>
<text x="361.40" y="444.60" font-size="6.2" fill="#111111" stroke="#111111" stroke-width="0.22">2</text>
<text x="365.20" y="447.80" font-size="9.0" fill="#111111" stroke="#111111" stroke-width="0.22">)</text>
<g transform="translate(239.6,359.4) rotate(-90)" fill="#111111"><text x="0" y="0" font-size="10.2" font-style="italic">C</text><text x="6.9" y="2.0" font-size="9.2">p</text><text x="15.9" y="0" font-size="9.2" textLength="17.4" lengthAdjust="spacingAndGlyphs">(pF)</text></g>
<circle cx="529.20" cy="321.81" r="4.9" fill="url(#gB)"/>
<circle cx="566.80" cy="329.77" r="4.9" fill="url(#gB)"/>
<circle cx="604.40" cy="333.00" r="4.9" fill="url(#gB)"/>
<circle cx="642.00" cy="336.56" r="4.9" fill="url(#gB)"/>
<rect x="491.60" y="262.50" width="188.00" height="161.70" fill="none" stroke="#747474" stroke-width="1.1"/>
<line x1="510.40" y1="424.20" x2="510.40" y2="422.20" stroke="#747474" stroke-width="0.9"/>
<line x1="510.40" y1="262.50" x2="510.40" y2="264.50" stroke="#747474" stroke-width="0.9"/>
<line x1="529.20" y1="424.20" x2="529.20" y2="420.00" stroke="#747474" stroke-width="0.9"/>
<line x1="529.20" y1="262.50" x2="529.20" y2="266.70" stroke="#747474" stroke-width="0.9"/>
<line x1="548.00" y1="424.20" x2="548.00" y2="422.20" stroke="#747474" stroke-width="0.9"/>
<line x1="548.00" y1="262.50" x2="548.00" y2="264.50" stroke="#747474" stroke-width="0.9"/>
<line x1="566.80" y1="424.20" x2="566.80" y2="420.00" stroke="#747474" stroke-width="0.9"/>
<line x1="566.80" y1="262.50" x2="566.80" y2="266.70" stroke="#747474" stroke-width="0.9"/>
<line x1="585.60" y1="424.20" x2="585.60" y2="422.20" stroke="#747474" stroke-width="0.9"/>
<line x1="585.60" y1="262.50" x2="585.60" y2="264.50" stroke="#747474" stroke-width="0.9"/>
<line x1="604.40" y1="424.20" x2="604.40" y2="420.00" stroke="#747474" stroke-width="0.9"/>
<line x1="604.40" y1="262.50" x2="604.40" y2="266.70" stroke="#747474" stroke-width="0.9"/>
<line x1="623.20" y1="424.20" x2="623.20" y2="422.20" stroke="#747474" stroke-width="0.9"/>
<line x1="623.20" y1="262.50" x2="623.20" y2="264.50" stroke="#747474" stroke-width="0.9"/>
<line x1="642.00" y1="424.20" x2="642.00" y2="420.00" stroke="#747474" stroke-width="0.9"/>
<line x1="642.00" y1="262.50" x2="642.00" y2="266.70" stroke="#747474" stroke-width="0.9"/>
<line x1="660.80" y1="424.20" x2="660.80" y2="422.20" stroke="#747474" stroke-width="0.9"/>
<line x1="660.80" y1="262.50" x2="660.80" y2="264.50" stroke="#747474" stroke-width="0.9"/>
<line x1="491.60" y1="417.73" x2="493.60" y2="417.73" stroke="#747474" stroke-width="0.9"/>
<line x1="679.60" y1="417.73" x2="677.60" y2="417.73" stroke="#747474" stroke-width="0.9"/>
<line x1="491.60" y1="411.26" x2="493.60" y2="411.26" stroke="#747474" stroke-width="0.9"/>
<line x1="679.60" y1="411.26" x2="677.60" y2="411.26" stroke="#747474" stroke-width="0.9"/>
<line x1="491.60" y1="404.80" x2="493.60" y2="404.80" stroke="#747474" stroke-width="0.9"/>
<line x1="679.60" y1="404.80" x2="677.60" y2="404.80" stroke="#747474" stroke-width="0.9"/>
<line x1="491.60" y1="398.33" x2="493.60" y2="398.33" stroke="#747474" stroke-width="0.9"/>
<line x1="679.60" y1="398.33" x2="677.60" y2="398.33" stroke="#747474" stroke-width="0.9"/>
<line x1="491.60" y1="391.86" x2="495.80" y2="391.86" stroke="#747474" stroke-width="0.9"/>
<line x1="679.60" y1="391.86" x2="675.40" y2="391.86" stroke="#747474" stroke-width="0.9"/>
<line x1="491.60" y1="385.39" x2="493.60" y2="385.39" stroke="#747474" stroke-width="0.9"/>
<line x1="679.60" y1="385.39" x2="677.60" y2="385.39" stroke="#747474" stroke-width="0.9"/>
<line x1="491.60" y1="378.92" x2="493.60" y2="378.92" stroke="#747474" stroke-width="0.9"/>
<line x1="679.60" y1="378.92" x2="677.60" y2="378.92" stroke="#747474" stroke-width="0.9"/>
<line x1="491.60" y1="372.46" x2="493.60" y2="372.46" stroke="#747474" stroke-width="0.9"/>
<line x1="679.60" y1="372.46" x2="677.60" y2="372.46" stroke="#747474" stroke-width="0.9"/>
<line x1="491.60" y1="365.99" x2="493.60" y2="365.99" stroke="#747474" stroke-width="0.9"/>
<line x1="679.60" y1="365.99" x2="677.60" y2="365.99" stroke="#747474" stroke-width="0.9"/>
<line x1="491.60" y1="359.52" x2="495.80" y2="359.52" stroke="#747474" stroke-width="0.9"/>
<line x1="679.60" y1="359.52" x2="675.40" y2="359.52" stroke="#747474" stroke-width="0.9"/>
<line x1="491.60" y1="353.05" x2="493.60" y2="353.05" stroke="#747474" stroke-width="0.9"/>
<line x1="679.60" y1="353.05" x2="677.60" y2="353.05" stroke="#747474" stroke-width="0.9"/>
<line x1="491.60" y1="346.58" x2="493.60" y2="346.58" stroke="#747474" stroke-width="0.9"/>
<line x1="679.60" y1="346.58" x2="677.60" y2="346.58" stroke="#747474" stroke-width="0.9"/>
<line x1="491.60" y1="340.12" x2="493.60" y2="340.12" stroke="#747474" stroke-width="0.9"/>
<line x1="679.60" y1="340.12" x2="677.60" y2="340.12" stroke="#747474" stroke-width="0.9"/>
<line x1="491.60" y1="333.65" x2="493.60" y2="333.65" stroke="#747474" stroke-width="0.9"/>
<line x1="679.60" y1="333.65" x2="677.60" y2="333.65" stroke="#747474" stroke-width="0.9"/>
<line x1="491.60" y1="327.18" x2="495.80" y2="327.18" stroke="#747474" stroke-width="0.9"/>
<line x1="679.60" y1="327.18" x2="675.40" y2="327.18" stroke="#747474" stroke-width="0.9"/>
<line x1="491.60" y1="320.71" x2="493.60" y2="320.71" stroke="#747474" stroke-width="0.9"/>
<line x1="679.60" y1="320.71" x2="677.60" y2="320.71" stroke="#747474" stroke-width="0.9"/>
<line x1="491.60" y1="314.24" x2="493.60" y2="314.24" stroke="#747474" stroke-width="0.9"/>
<line x1="679.60" y1="314.24" x2="677.60" y2="314.24" stroke="#747474" stroke-width="0.9"/>
<line x1="491.60" y1="307.78" x2="493.60" y2="307.78" stroke="#747474" stroke-width="0.9"/>
<line x1="679.60" y1="307.78" x2="677.60" y2="307.78" stroke="#747474" stroke-width="0.9"/>
<line x1="491.60" y1="301.31" x2="493.60" y2="301.31" stroke="#747474" stroke-width="0.9"/>
<line x1="679.60" y1="301.31" x2="677.60" y2="301.31" stroke="#747474" stroke-width="0.9"/>
<line x1="491.60" y1="294.84" x2="495.80" y2="294.84" stroke="#747474" stroke-width="0.9"/>
<line x1="679.60" y1="294.84" x2="675.40" y2="294.84" stroke="#747474" stroke-width="0.9"/>
<line x1="491.60" y1="288.37" x2="493.60" y2="288.37" stroke="#747474" stroke-width="0.9"/>
<line x1="679.60" y1="288.37" x2="677.60" y2="288.37" stroke="#747474" stroke-width="0.9"/>
<line x1="491.60" y1="281.90" x2="493.60" y2="281.90" stroke="#747474" stroke-width="0.9"/>
<line x1="679.60" y1="281.90" x2="677.60" y2="281.90" stroke="#747474" stroke-width="0.9"/>
<line x1="491.60" y1="275.44" x2="493.60" y2="275.44" stroke="#747474" stroke-width="0.9"/>
<line x1="679.60" y1="275.44" x2="677.60" y2="275.44" stroke="#747474" stroke-width="0.9"/>
<line x1="491.60" y1="268.97" x2="493.60" y2="268.97" stroke="#747474" stroke-width="0.9"/>
<line x1="679.60" y1="268.97" x2="677.60" y2="268.97" stroke="#747474" stroke-width="0.9"/>
<text x="486.40" y="426.90" font-size="9" text-anchor="end" textLength="4.5" lengthAdjust="spacingAndGlyphs" fill="#111111" stroke="#111111" stroke-width="0.22">0</text>
<text x="486.40" y="394.56" font-size="9" text-anchor="end" textLength="4.5" lengthAdjust="spacingAndGlyphs" fill="#111111" stroke="#111111" stroke-width="0.22">5</text>
<text x="486.40" y="362.22" font-size="9" text-anchor="end" textLength="9.01" lengthAdjust="spacingAndGlyphs" fill="#111111" stroke="#111111" stroke-width="0.22">10</text>
<text x="486.40" y="329.88" font-size="9" text-anchor="end" textLength="9.01" lengthAdjust="spacingAndGlyphs" fill="#111111" stroke="#111111" stroke-width="0.22">15</text>
<text x="486.40" y="297.54" font-size="9" text-anchor="end" textLength="9.01" lengthAdjust="spacingAndGlyphs" fill="#111111" stroke="#111111" stroke-width="0.22">20</text>
<text x="486.40" y="265.20" font-size="9" text-anchor="end" textLength="9.01" lengthAdjust="spacingAndGlyphs" fill="#111111" stroke="#111111" stroke-width="0.22">25</text>
<text x="491.60" y="437.20" font-size="9" text-anchor="middle" textLength="4.5" lengthAdjust="spacingAndGlyphs" fill="#111111" stroke="#111111" stroke-width="0.22">2</text>
<text x="529.20" y="437.20" font-size="9" text-anchor="middle" textLength="4.5" lengthAdjust="spacingAndGlyphs" fill="#111111" stroke="#111111" stroke-width="0.22">4</text>
<text x="566.80" y="437.20" font-size="9" text-anchor="middle" textLength="4.5" lengthAdjust="spacingAndGlyphs" fill="#111111" stroke="#111111" stroke-width="0.22">6</text>
<text x="604.40" y="437.20" font-size="9" text-anchor="middle" textLength="4.5" lengthAdjust="spacingAndGlyphs" fill="#111111" stroke="#111111" stroke-width="0.22">8</text>
<text x="642.00" y="437.20" font-size="9" text-anchor="middle" textLength="9.01" lengthAdjust="spacingAndGlyphs" fill="#111111" stroke="#111111" stroke-width="0.22">10</text>
<text x="679.60" y="437.20" font-size="9" text-anchor="middle" textLength="9.01" lengthAdjust="spacingAndGlyphs" fill="#111111" stroke="#111111" stroke-width="0.22">12</text>
<rect x="590.0" y="270.6" width="78.0" height="14.4" fill="white" stroke="#555" stroke-width="0.8"/>
<circle cx="601.10" cy="277.20" r="4.9" fill="url(#gB)"/>
<text x="614.00" y="280.20" font-size="8.4" textLength="20.4" lengthAdjust="spacingAndGlyphs" fill="#111111" stroke="#111111" stroke-width="0.22">f-dep.</text>
<text x="638.30" y="280.20" font-size="8.4" textLength="18.4" lengthAdjust="spacingAndGlyphs" fill="#111111" stroke="#111111" stroke-width="0.22">(w R</text>
<text x="657.20" y="282.40" font-size="5.4" fill="#111111" stroke="#111111" stroke-width="0.22">s</text>
<text x="662.80" y="280.20" font-size="8.4" fill="#111111" stroke="#111111" stroke-width="0.22">)</text>
<text x="545.60" y="402.20" font-size="11.4" textLength="113.1" lengthAdjust="spacingAndGlyphs" fill="#111111" stroke="#111111" stroke-width="0.16">epi-MgO 4.0 - 10.0nm</text>
<text x="545.60" y="415.00" font-size="11.4" textLength="72.6" lengthAdjust="spacingAndGlyphs" fill="#111111" stroke="#111111" stroke-width="0.16">(MOKE stack)</text>
<text x="561.00" y="446.00" font-size="10" font-style="italic" fill="#111111" stroke="#111111" stroke-width="0.16">t</text>
<text x="564.80" y="449.80" font-size="7.2" fill="#111111" stroke="#111111" stroke-width="0.22">MgO</text>
<text x="583.60" y="446.20" font-size="9.0" textLength="22.0" lengthAdjust="spacingAndGlyphs" fill="#111111" stroke="#111111" stroke-width="0.22">(nm)</text>
<text transform="translate(469.8,343.4) rotate(-90)" font-size="9.8" text-anchor="middle" font-style="italic" fill="#111111">ε<tspan font-size="6.5" dy="2.8" font-style="normal">r</tspan></text>
</svg>
</body></html>
